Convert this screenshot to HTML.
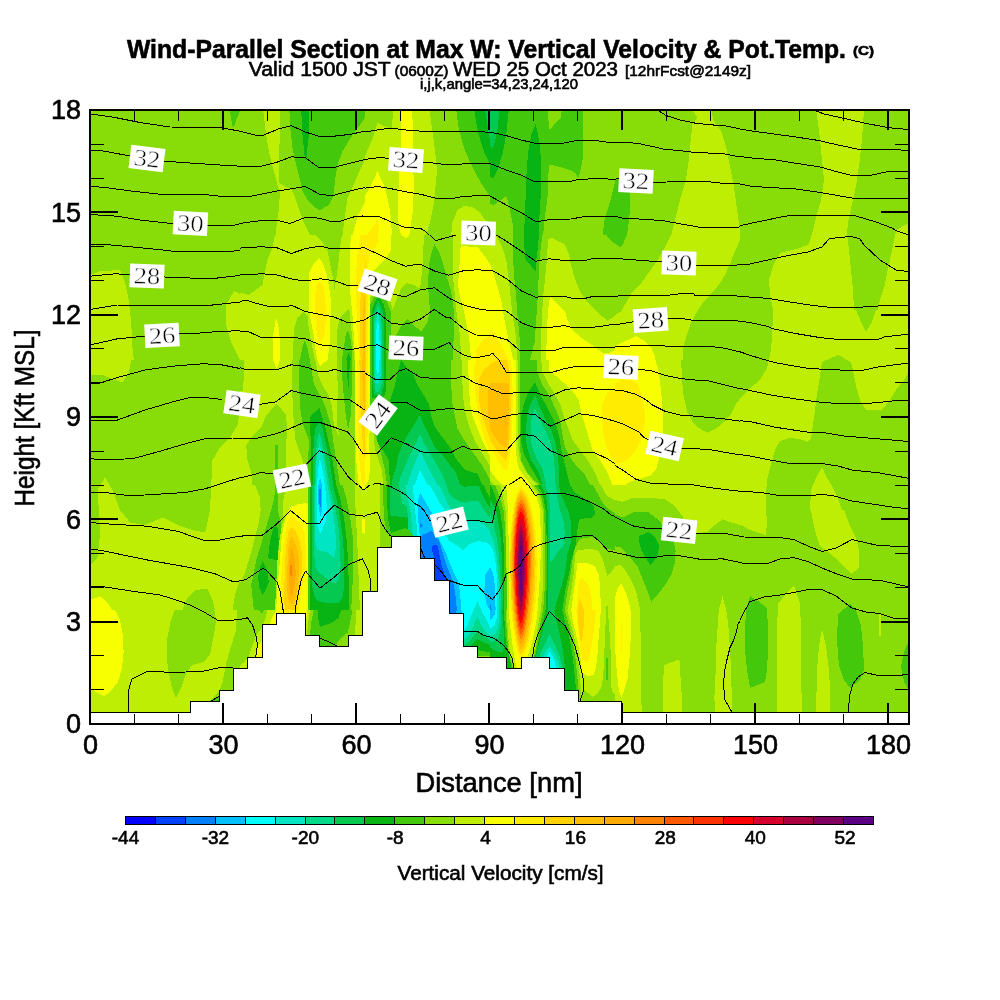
<!DOCTYPE html>
<html lang="en"><head><meta charset="utf-8"><title>Wind-Parallel Section at Max W</title>
<style>html,body{margin:0;padding:0;background:#fff}body{width:1000px;height:1000px;overflow:hidden}svg{display:block}text{font-family:"Liberation Sans",Arial,Helvetica,sans-serif;fill:#000;stroke:#000;stroke-width:0.6px}.cl text{font-family:"Liberation Serif","DejaVu Serif",serif;stroke:#fff;stroke-width:0.5px}</style></head><body>
<svg width="1000" height="1000" viewBox="0 0 1000 1000">
<rect width="1000" height="1000" fill="#fff"/>
<g shape-rendering="crispEdges">
<defs>
<clipPath id="plotclip"><rect x="90" y="110" width="819" height="603"/></clipPath>
<clipPath id="c0"><rect x="240" y="110" width="125" height="125"/></clipPath>
<clipPath id="c1"><rect x="365" y="110" width="125" height="125"/></clipPath>
<clipPath id="c2"><rect x="490" y="110" width="125" height="125"/></clipPath>
<clipPath id="c3"><rect x="615" y="110" width="125" height="125"/></clipPath>
<clipPath id="c4"><rect x="240" y="235" width="125" height="125"/></clipPath>
<clipPath id="c5"><rect x="365" y="235" width="125" height="125"/></clipPath>
<clipPath id="c6"><rect x="490" y="235" width="125" height="125"/></clipPath>
<clipPath id="c7"><rect x="615" y="235" width="125" height="125"/></clipPath>
<clipPath id="c8"><rect x="240" y="360" width="125" height="125"/></clipPath>
<clipPath id="c9"><rect x="365" y="360" width="125" height="125"/></clipPath>
<clipPath id="c10"><rect x="490" y="360" width="125" height="125"/></clipPath>
<clipPath id="c11"><rect x="615" y="360" width="125" height="125"/></clipPath>
<clipPath id="c12"><rect x="240" y="485" width="125" height="125"/></clipPath>
<clipPath id="c13"><rect x="365" y="485" width="125" height="125"/></clipPath>
<clipPath id="c14"><rect x="490" y="485" width="125" height="125"/></clipPath>
<clipPath id="c15"><rect x="490" y="610" width="125" height="103"/></clipPath>
<clipPath id="c16"><rect x="240" y="610" width="125" height="103"/></clipPath>
<clipPath id="c17"><rect x="365" y="610" width="125" height="103"/></clipPath>
<clipPath id="c18"><rect x="615" y="485" width="125" height="125"/></clipPath>
<clipPath id="c19"><rect x="615" y="610" width="125" height="103"/></clipPath>
<clipPath id="c20"><rect x="90" y="110" width="150" height="250"/></clipPath>
<clipPath id="c21"><rect x="90" y="360" width="150" height="250"/></clipPath>
<clipPath id="c22"><rect x="90" y="610" width="150" height="103"/></clipPath>
<clipPath id="c23"><rect x="740" y="110" width="169" height="200"/></clipPath>
<clipPath id="c24"><rect x="740" y="310" width="169" height="200"/></clipPath>
<clipPath id="c25"><rect x="740" y="510" width="169" height="203"/></clipPath>
</defs>
<g clip-path="url(#c0)">
<rect x="240" y="110" width="125" height="125" fill="#88dc08"/>
<polygon fill="#beee04" points="263.1,110.0 280.0,110.0 279.8,135.0 279.0,160.0 279.0,182.5 282.5,185.0 291.2,189.4 295.0,197.5 300.0,212.5 303.8,222.5 310.0,235.0 275.6,235.0 276.9,222.5 278.8,210.0 280.0,191.2 277.5,185.0 276.2,180.0 271.9,163.8 268.8,151.2 266.2,135.0"/>
<polygon fill="#44c80c" points="289.4,110.0 365.0,110.0 365.0,117.5 360.0,125.0 350.0,138.8 342.5,151.2 337.5,165.0 335.0,180.0 333.8,195.0 328.8,205.0 318.8,210.6 307.5,200.0 302.5,191.2 298.8,175.0 295.0,160.0 292.5,147.5 290.0,126.2"/>
<polygon fill="#08b414" points="301.2,110.0 309.4,110.0 308.8,135.0 306.2,160.0 305.0,160.0 302.5,135.0"/>
<polygon fill="#beee04" points="365.0,160.0 358.8,172.5 352.5,187.5 347.5,197.5 345.0,216.2 342.5,235.0 365.0,235.0"/>
<polygon fill="#f8ff00" points="365.0,202.5 357.5,216.2 352.5,235.0 365.0,235.0"/>
</g>
<g clip-path="url(#c1)">
<rect x="365" y="110" width="125" height="125" fill="#beee04"/>
<polygon fill="#88dc08" points="365.0,110.0 393.1,110.0 391.9,128.8 383.8,126.2 377.5,122.5 372.5,138.8 365.0,156.2"/>
<polygon fill="#88dc08" points="429.4,110.0 431.2,122.5 433.8,141.2 436.2,160.0 436.9,172.5 435.0,191.2 433.8,203.8 430.0,222.5 426.2,235.0 490.0,235.0 490.0,110.0"/>
<polygon fill="#f8ff00" points="401.2,110.0 412.2,110.0 413.1,135.0 413.1,160.0 413.8,185.0 413.1,210.0 411.2,222.5 409.4,235.0 401.2,235.0 399.4,228.8 397.5,216.2 398.1,197.5 399.4,172.5 401.2,147.5"/>
<polygon fill="#f8ff00" points="377.5,171.2 383.8,185.0 387.5,197.5 390.0,210.0 391.2,222.5 391.9,235.0 365.0,235.0 365.0,196.2 372.5,182.5"/>
<polygon fill="#ffec00" points="376.8,217.6 379.2,228.0 378.8,235.0 367.2,235.0 368.0,233.6 375.2,224.0"/>
<polygon fill="#44c80c" points="456.2,110.0 458.8,128.8 463.8,147.5 470.0,162.5 475.0,172.5 483.8,187.5 490.0,196.2 490.0,110.0"/>
<polygon fill="#08b414" points="474.4,110.0 476.2,122.5 478.8,135.0 483.8,151.2 490.0,163.8 490.0,110.0"/>
<polygon fill="#04c850" points="485.0,110.0 488.1,128.8 490.0,141.2 490.0,110.0"/>
<polygon fill="#beee04" points="451.2,235.0 452.5,222.5 457.5,210.0 463.8,206.2 472.5,206.9 480.0,212.5 485.0,220.0 490.0,222.5 490.0,235.0"/>
</g>
<g clip-path="url(#c2)">
<rect x="490" y="110" width="125" height="125" fill="#88dc08"/>
<polygon fill="#44c80c" points="490.0,110.0 583.1,110.0 583.1,141.2 582.5,160.0 580.0,172.5 578.1,178.1 576.2,173.8 571.2,170.6 560.0,166.9 548.8,164.4 548.1,185.0 547.5,197.5 545.0,216.2 543.1,235.0 490.0,235.0"/>
<polygon fill="#88dc08" points="548.1,110.0 561.9,110.0 560.6,117.5 550.0,129.4 548.8,128.8"/>
<polygon fill="#08b414" points="490.0,110.0 508.8,110.0 506.2,135.0 502.5,153.8 497.5,170.0 493.1,178.8 490.0,176.2"/>
<polygon fill="#04c850" points="490.0,110.0 499.4,110.0 497.5,128.8 495.0,141.2 492.5,148.8 490.0,145.0"/>
<polygon fill="#08b414" points="535.6,123.8 538.1,135.0 540.0,147.5 541.0,160.0 541.0,185.0 540.6,197.5 540.0,210.0 538.8,222.5 538.8,235.0 523.8,235.0 525.0,216.2 525.6,197.5 526.2,178.8 527.5,160.0 528.8,147.5 531.2,135.0"/>
<polygon fill="#88dc08" points="490.0,203.8 493.8,205.0 506.2,196.2 507.5,200.0 510.0,210.0 512.5,222.5 513.1,235.0 490.0,235.0"/>
<polygon fill="#44c80c" points="615.0,182.5 611.2,197.5 607.5,210.0 603.8,222.5 603.1,235.0 615.0,235.0"/>
</g>
<g clip-path="url(#c3)">
<rect x="615" y="110" width="125" height="125" fill="#88dc08"/>
<polygon fill="#44c80c" points="615.0,179.4 618.8,177.5 630.0,193.8 630.0,210.0 628.8,222.5 626.9,235.0 615.0,235.0"/>
<polygon fill="#beee04" points="692.5,110.0 697.5,118.1 692.5,123.8 690.6,141.2 688.8,160.0 686.2,178.8 680.0,200.0 675.0,220.0 671.2,235.0 740.0,235.0 740.0,230.0 738.8,222.5 736.2,203.8 733.8,185.0 730.0,166.2 726.2,147.5 721.2,131.2 713.8,121.2 711.2,110.0"/>
</g>
<g clip-path="url(#c4)">
<rect x="240" y="235" width="125" height="125" fill="#beee04"/>
<polygon fill="#88dc08" points="240.0,235.0 275.0,235.0 272.5,247.5 267.5,260.0 264.4,273.8 262.5,285.0 248.8,295.0 240.0,292.5"/>
<polygon fill="#88dc08" points="315.0,235.0 322.5,242.5 327.5,251.2 330.6,266.2 333.1,278.8 334.4,290.0 336.2,278.8 338.1,266.2 340.0,247.5 341.9,235.0"/>
<polygon fill="#f8ff00" points="318.8,258.1 322.5,262.5 326.2,272.5 328.8,285.0 330.6,297.5 330.6,316.2 330.0,335.0 329.4,347.5 327.5,360.0 317.5,360.0 315.0,347.5 313.8,335.0 311.2,322.5 308.8,310.0 308.8,291.2 309.4,272.5 313.8,263.8"/>
<polygon fill="#ffec00" points="319.4,280.6 323.8,287.5 325.6,303.8 325.6,322.5 324.4,335.0 321.2,342.5 320.0,343.8 318.1,341.2 316.2,328.8 315.0,310.0 315.6,287.5"/>
<polygon fill="#f8ff00" points="351.2,235.0 350.0,247.5 349.8,272.5 350.6,297.5 352.5,316.2 353.8,335.0 355.0,360.0 365.0,360.0 365.0,235.0"/>
<polygon fill="#ffec00" points="360.6,235.0 357.5,253.8 356.2,272.5 356.2,297.5 356.9,322.5 358.1,341.2 358.8,360.0 365.0,360.0 365.0,235.0"/>
<polygon fill="#ffd200" points="365.0,266.2 361.2,285.0 360.0,310.0 360.0,335.0 360.6,360.0 365.0,360.0"/>
<polygon fill="#ffbe00" points="365.0,291.2 363.1,310.0 362.5,335.0 363.1,360.0 365.0,360.0"/>
<polygon fill="#f8ff00" points="276.2,317.5 279.4,330.0 280.0,360.0 273.1,360.0 273.1,335.0"/>
<polygon fill="#88dc08" points="303.8,311.9 307.5,316.2 308.8,328.8 311.2,341.2 315.0,360.0 293.1,360.0 293.8,328.8 297.5,317.5"/>
<polygon fill="#44c80c" points="305.0,340.0 307.5,347.5 310.0,360.0 300.0,360.0 302.5,347.5"/>
<polygon fill="#88dc08" points="348.8,308.8 350.0,312.5 350.6,322.5 352.5,341.2 354.4,360.0 336.9,360.0 337.5,328.8 340.0,317.5"/>
<polygon fill="#44c80c" points="348.1,330.0 351.2,341.2 352.5,360.0 341.9,360.0 343.8,347.5 345.6,335.0"/>
<polygon fill="#08b414" points="348.8,352.5 351.2,360.0 346.2,360.0"/>
</g>
<g clip-path="url(#c5)">
<rect x="365" y="235" width="125" height="125" fill="#88dc08"/>
<polygon fill="#beee04" points="365.0,235.0 423.8,235.0 423.1,260.0 421.2,278.8 420.0,288.8 413.8,285.0 406.2,283.1 401.2,288.8 397.5,297.5 392.2,310.0 391.2,302.5 386.2,297.5 377.5,290.0 370.0,297.5 369.6,270.0 365.0,270.0"/>
<polygon fill="#f8ff00" points="365.0,235.0 391.2,235.0 390.6,251.2 383.8,261.2 375.0,270.0 369.6,272.5 369.6,360.0 365.0,360.0"/>
<polygon fill="#ffec00" points="365.0,235.0 378.1,235.0 378.8,241.2 375.0,247.5 370.0,253.8 368.1,266.2 367.6,285.0 367.6,360.0 365.0,360.0"/>
<polygon fill="#ffd200" points="365.0,253.8 366.4,272.5 366.4,360.0 365.0,360.0"/>
<polygon fill="#f8ff00" points="401.2,235.0 409.4,235.0 406.2,238.1"/>
<polygon fill="#44c80c" points="377.5,290.0 386.2,300.0 391.2,312.5 391.5,360.0 370.0,360.0 370.0,305.0"/>
<polygon fill="#08b414" points="378.1,295.0 383.8,305.0 386.4,316.2 386.4,360.0 371.6,360.0 371.6,310.0"/>
<polygon fill="#04c850" points="378.1,300.0 382.5,310.0 384.0,322.5 384.0,360.0 372.8,360.0 372.8,315.0"/>
<polygon fill="#00d98a" points="378.1,305.0 381.0,316.2 382.0,328.8 382.0,360.0 374.0,360.0 374.0,320.0"/>
<polygon fill="#00e6c4" points="377.9,311.2 380.0,322.5 380.8,335.0 380.8,360.0 374.9,360.0 374.9,325.0"/>
<polygon fill="#00ffff" points="377.8,320.0 379.1,330.0 379.5,341.2 379.5,360.0 376.0,360.0 376.0,332.5"/>
<polygon fill="#44c80c" points="434.4,243.8 440.0,253.8 443.8,266.2 447.5,278.8 451.2,291.2 453.8,310.0 454.4,322.5 453.8,335.0 452.5,360.0 395.0,360.0 396.2,335.0 401.2,326.2 407.5,318.8 413.8,325.0 421.2,331.9 427.5,322.5 430.0,310.0 428.8,297.5 428.1,285.0 428.8,266.2 431.2,253.8"/>
<polygon fill="#beee04" points="452.5,235.0 452.5,272.5 454.4,291.2 456.2,310.0 458.1,322.5 460.0,335.0 461.2,360.0 490.0,360.0 490.0,235.0"/>
<polygon fill="#f8ff00" points="460.6,246.2 477.5,246.9 483.8,255.0 490.0,263.8 490.0,360.0 471.2,360.0 470.0,347.5 468.8,335.0 466.2,322.5 463.8,310.0 460.0,297.5 458.1,285.0 458.8,272.5 460.0,260.0"/>
<polygon fill="#ffec00" points="490.0,335.0 482.5,340.0 476.2,350.0 475.0,360.0 490.0,360.0"/>
</g>
<g clip-path="url(#c6)">
<rect x="490" y="235" width="125" height="125" fill="#88dc08"/>
<polygon fill="#beee04" points="490.0,235.0 496.2,235.0 502.5,247.5 506.2,260.0 508.8,278.8 510.0,291.2 511.9,310.0 513.8,322.5 515.6,335.0 516.9,347.5 517.5,360.0 490.0,360.0"/>
<polygon fill="#f8ff00" points="490.0,263.8 495.0,278.8 498.8,291.2 501.9,303.8 503.8,316.2 506.2,328.8 508.8,341.2 511.9,353.8 513.1,360.0 490.0,360.0"/>
<polygon fill="#ffec00" points="490.0,330.0 495.0,335.0 502.5,347.5 508.8,360.0 490.0,360.0"/>
<polygon fill="#44c80c" points="513.1,235.0 542.5,235.0 540.0,253.8 538.8,272.5 538.1,291.2 536.9,310.0 535.6,328.8 535.0,341.2 532.5,350.0 530.0,360.0 520.0,360.0 520.0,347.5 519.4,335.0 517.5,316.2 516.2,297.5 514.4,278.8 513.1,260.0"/>
<polygon fill="#08b414" points="523.8,235.0 538.8,235.0 538.1,247.5 536.2,260.0 535.6,271.2 531.2,266.2 525.6,260.0 524.4,247.5"/>
<polygon fill="#beee04" points="548.1,238.8 552.5,238.1 565.0,244.4 568.8,253.8 571.2,266.2 576.2,282.5 581.2,293.8 590.0,305.0 597.5,312.5 607.5,320.6 615.0,316.2 615.0,360.0 540.6,360.0 541.2,335.0 541.9,316.2 543.1,297.5 545.0,278.8 546.9,260.0"/>
<polygon fill="#f8ff00" points="550.0,296.9 558.8,305.0 565.0,311.2 567.5,320.0 572.5,330.0 582.5,338.8 593.8,346.2 602.5,352.5 608.8,353.1 615.0,350.0 615.0,360.0 546.2,360.0 546.9,328.8 548.1,310.0"/>
<polygon fill="#44c80c" points="606.2,235.0 615.0,235.0 615.0,243.8 610.0,240.0"/>
</g>
<g clip-path="url(#c7)">
<rect x="615" y="235" width="125" height="125" fill="#88dc08"/>
<polygon fill="#44c80c" points="615.0,235.0 626.9,235.0 622.5,245.0 620.0,246.9 615.0,243.8"/>
<polygon fill="#beee04" points="671.2,235.0 740.0,235.0 740.0,240.0 735.0,251.2 730.0,263.8 725.0,275.0 718.8,285.0 710.0,295.0 701.2,305.0 695.0,315.0 690.0,325.0 686.2,337.5 683.1,347.5 682.5,360.0 615.0,360.0 615.0,315.0 621.2,311.2 626.2,302.5 631.2,293.8 640.0,285.0 648.8,272.5 656.2,262.5 665.0,247.5"/>
<polygon fill="#f8ff00" points="615.0,346.2 627.5,340.0 636.2,336.0 645.0,341.2 651.2,347.5 654.4,355.0 655.6,360.0 615.0,360.0"/>
</g>
<g clip-path="url(#c8)">
<rect x="240" y="360" width="125" height="125" fill="#beee04"/>
<polygon fill="#88dc08" points="240.0,360.0 243.8,360.0 243.8,378.8 242.5,391.2 240.0,391.2"/>
<polygon fill="#f8ff00" points="273.1,360.0 280.0,360.0 276.9,368.8"/>
<polygon fill="#f8ff00" points="317.5,360.0 327.5,360.0 320.0,366.2"/>
<polygon fill="#88dc08" points="276.9,403.8 286.2,415.0 286.9,430.0 286.2,447.5 286.2,466.2 285.6,485.0 252.5,485.0 251.2,472.5 247.5,460.0 246.2,445.0 251.2,437.5 261.2,427.5 266.2,415.0"/>
<polygon fill="#44c80c" points="275.0,445.0 277.5,445.0 277.5,468.8 275.0,468.8"/>
<polygon fill="#88dc08" points="292.2,360.0 315.4,360.0 317.0,368.0 318.6,376.0 322.6,385.6 328.2,394.4 330.6,401.6 332.2,408.0 333.0,416.0 333.8,424.0 336.2,430.4 341.0,440.0 343.8,460.0 346.2,485.0 305.0,485.0 302.5,460.0 295.4,440.0 293.8,424.0 293.0,408.0 292.2,392.0"/>
<polygon fill="#44c80c" points="299.4,360.0 309.8,360.0 311.4,369.6 313.8,384.0 318.6,393.6 322.6,400.0 325.8,408.0 328.2,416.0 330.6,424.0 332.2,432.0 333.0,440.0 336.2,460.0 340.0,485.0 307.5,485.0 308.1,460.0 309.0,440.0 302.6,424.0 300.2,408.0 299.4,392.0"/>
<polygon fill="#08b414" points="319.4,408.0 321.8,416.0 324.2,424.0 326.6,432.0 328.2,440.0 332.5,460.0 336.2,485.0 310.6,485.0 310.6,460.0 311.4,440.0 309.8,432.0 309.8,424.0 310.6,416.0"/>
<polygon fill="#04c850" points="319.4,422.4 322.6,428.0 325.0,440.0 329.4,460.0 333.1,485.0 313.1,485.0 313.1,460.0 313.8,440.0 315.4,428.0"/>
<polygon fill="#00d98a" points="319.4,432.8 321.8,440.0 325.6,460.0 329.4,485.0 315.0,485.0 315.6,460.0 317.0,440.0"/>
<polygon fill="#00e6c4" points="319.4,442.5 324.0,460.0 327.5,485.0 316.0,485.0 316.5,460.0"/>
<polygon fill="#00ffff" points="319.8,457.5 323.1,472.5 324.8,485.0 317.2,485.0 317.8,472.5"/>
<polygon fill="#00c0ff" points="320.0,476.9 321.9,485.0 318.5,485.0"/>
<polygon fill="#88dc08" points="337.0,360.0 354.6,360.0 354.6,485.0 346.2,485.0 343.8,460.0 337.0,424.0 337.0,408.0 337.8,392.0"/>
<polygon fill="#44c80c" points="341.8,360.0 352.2,360.0 351.8,384.0 351.4,400.0 350.6,416.0 348.2,429.6 345.8,416.0 344.2,400.0 342.6,384.0"/>
<polygon fill="#08b414" points="347.0,360.0 349.8,360.0 349.2,378.8 348.4,388.0 347.5,378.8"/>
<polygon fill="#f8ff00" points="355.0,360.0 365.0,360.0 365.0,485.0 358.8,485.0 356.2,460.0 355.0,422.5"/>
<polygon fill="#ffec00" points="357.4,360.0 365.0,360.0 365.0,485.0 361.9,485.0 359.4,460.0 358.1,422.5"/>
<polygon fill="#ffd200" points="359.4,360.0 365.0,360.0 365.0,460.0 363.1,447.5 360.6,410.0"/>
<polygon fill="#ffbe00" points="361.8,360.0 365.0,360.0 365.0,416.2 363.1,397.5"/>
</g>
<g clip-path="url(#c9)">
<rect x="365" y="360" width="125" height="125" fill="#44c80c"/>
<polygon fill="#88dc08" points="451.2,360.0 451.2,385.0 452.5,403.8 455.0,416.2 457.5,428.8 465.0,441.2 473.8,453.8 481.2,463.8 486.2,472.5 490.0,480.0 490.0,360.0"/>
<polygon fill="#beee04" points="461.9,360.0 462.5,385.0 463.8,403.8 466.2,416.2 470.0,428.8 475.0,441.2 482.5,453.8 490.0,466.2 490.0,360.0"/>
<polygon fill="#f8ff00" points="468.1,360.0 468.8,385.0 470.0,403.8 472.5,416.2 477.5,428.8 482.5,441.2 488.8,453.8 490.0,456.2 490.0,360.0"/>
<polygon fill="#ffec00" points="476.2,360.0 474.0,367.5 474.8,390.0 477.8,412.5 483.0,435.0 489.0,450.0 490.0,451.9 490.0,360.0"/>
<polygon fill="#ffd200" points="490.0,364.4 483.0,370.5 478.5,379.5 478.5,397.5 481.5,414.0 486.0,427.5 490.0,440.0"/>
<polygon fill="#ffbe00" points="490.0,384.4 487.5,393.0 487.5,414.0 490.0,425.0"/>
<polygon fill="#08b414" points="401.2,360.0 406.2,367.5 412.5,372.5 417.5,385.0 423.8,395.0 428.8,403.8 431.2,416.2 435.0,427.5 442.5,437.5 450.0,447.5 455.0,457.5 465.0,470.0 477.5,473.8 482.5,485.0 390.0,485.0 388.8,460.0 381.2,447.5 376.9,441.2 377.5,435.0 391.9,395.0 395.0,385.0 397.5,372.5"/>
<polygon fill="#04c850" points="420.0,415.0 423.8,425.0 428.8,435.0 435.0,447.5 442.5,455.0 450.0,465.0 456.2,472.5 460.0,485.0 391.9,485.0 392.5,478.8 396.2,466.2 398.8,453.8 402.5,445.0 407.5,435.0 413.8,425.0"/>
<polygon fill="#00d98a" points="420.0,433.8 425.0,445.0 431.2,455.0 437.5,466.2 442.5,475.0 446.2,485.0 398.8,485.0 400.0,478.8 403.8,468.8 408.8,457.5 415.0,445.0"/>
<polygon fill="#00e6c4" points="420.0,451.2 425.0,461.2 430.0,471.2 435.0,480.0 437.5,485.0 407.5,485.0 410.0,475.0 415.0,462.5"/>
<polygon fill="#00ffff" points="420.0,470.0 423.8,477.5 427.5,485.0 415.0,485.0 417.5,477.5"/>
<polygon fill="#08b414" points="371.6,360.0 386.4,360.0 386.4,388.8 383.8,397.5 372.5,397.5 371.6,385.0"/>
<polygon fill="#04c850" points="372.8,360.0 384.0,360.0 384.0,385.0 381.2,395.0 374.4,395.0 372.8,385.0"/>
<polygon fill="#00d98a" points="374.0,360.0 382.0,360.0 382.0,382.5 378.8,392.5 375.6,391.2 374.0,378.8"/>
<polygon fill="#00e6c4" points="374.9,360.0 380.8,360.0 380.5,376.2 378.1,385.0 376.0,382.5 375.0,372.5"/>
<polygon fill="#00ffff" points="376.0,360.0 379.5,360.0 379.1,370.0 377.8,375.0 376.5,370.0"/>
<polygon fill="#88dc08" points="365.0,360.0 370.0,360.0 370.0,416.2 373.8,430.0 380.0,450.0 385.0,470.0 387.0,485.0 365.0,485.0"/>
<polygon fill="#beee04" points="365.0,360.0 369.9,360.0 369.9,416.2 373.0,430.0 375.0,450.0 382.0,470.0 383.1,485.0 365.0,485.0"/>
<polygon fill="#f8ff00" points="365.0,360.0 369.6,360.0 369.6,422.5 369.4,447.5 370.0,470.0 368.8,480.0 365.0,486.2"/>
<polygon fill="#ffec00" points="365.0,360.0 367.6,360.0 367.6,435.0 366.9,453.8 365.0,460.0"/>
<polygon fill="#ffd200" points="365.0,360.0 366.4,360.0 366.4,410.0 365.0,422.5"/>
</g>
<g clip-path="url(#c10)">
<rect x="490" y="360" width="125" height="125" fill="#f8ff00"/>
<polygon fill="#ffec00" points="490.0,360.0 510.6,360.0 512.2,375.0 513.0,405.0 511.5,442.5 508.5,465.0 507.0,471.0 502.5,467.5 495.0,456.2 490.0,448.5"/>
<polygon fill="#ffd200" points="490.0,363.8 497.5,360.0 507.0,360.0 510.0,375.0 510.8,405.0 510.0,435.0 507.8,454.5 505.5,460.5 500.0,455.0 495.0,447.5 490.0,440.2"/>
<polygon fill="#ffbe00" points="490.0,383.5 502.5,382.5 508.5,384.0 509.2,405.0 508.5,427.5 507.0,447.0 502.5,446.2 495.0,437.5 490.0,429.0"/>
<polygon fill="#ffaa00" points="505.0,417.0 506.0,417.0 506.0,426.0 505.0,426.0"/>
<polygon fill="#beee04" points="490.0,470.0 496.2,478.8 502.5,485.0 490.0,485.0"/>
<polygon fill="#88dc08" points="490.0,480.0 493.8,485.0 490.0,485.0"/>
<polygon fill="#beee04" points="515.6,360.0 548.8,360.0 548.8,370.0 556.2,376.2 565.0,383.8 572.5,391.2 578.8,400.0 581.2,412.5 585.0,425.0 588.8,437.5 592.5,450.0 600.0,460.0 607.5,472.5 612.5,485.0 531.2,485.0 526.2,478.8 518.8,468.8 516.9,460.0 515.6,447.5"/>
<polygon fill="#88dc08" points="518.1,360.0 541.2,360.0 542.5,372.5 547.5,382.5 553.8,392.5 560.0,403.8 563.8,416.2 567.5,426.2 572.5,440.0 580.0,450.0 587.5,460.0 595.0,472.5 600.0,485.0 537.5,485.0 531.2,478.8 525.0,470.0 520.0,460.0 518.1,447.5"/>
<polygon fill="#44c80c" points="520.0,360.0 536.9,360.0 537.5,372.5 542.5,385.0 548.8,395.0 555.0,407.5 560.0,420.0 562.5,435.0 565.0,447.5 570.0,457.5 577.5,467.5 585.0,475.0 590.0,485.0 540.0,485.0 533.8,480.0 527.5,472.5 521.2,460.0 520.0,447.5"/>
<polygon fill="#08b414" points="535.0,381.9 538.8,391.2 543.8,401.2 550.0,412.5 556.2,425.0 559.4,437.5 561.2,450.0 563.8,460.0 566.9,472.5 570.0,485.0 541.2,485.0 536.2,476.2 530.0,466.2 523.8,453.8 521.2,441.2 521.2,416.2 523.8,403.8 528.8,391.2"/>
<polygon fill="#04c850" points="535.0,395.0 540.0,407.5 545.0,418.8 551.2,430.0 555.0,441.2 557.5,453.8 558.8,466.2 559.4,485.0 542.5,485.0 538.8,472.5 531.2,460.0 526.9,447.5 525.6,435.0 526.9,416.2 530.0,405.0"/>
<polygon fill="#00d98a" points="535.0,408.1 537.5,413.8 542.5,425.0 547.5,435.0 551.2,445.0 553.8,457.5 555.0,472.5 555.0,485.0 546.2,485.0 542.5,468.8 537.5,460.0 533.1,450.0 530.6,441.2 530.6,422.5 533.1,412.5"/>
<polygon fill="#ffec00" points="615.0,388.8 607.5,392.5 602.5,402.5 601.9,416.2 603.1,432.5 606.2,447.5 611.2,457.5 615.0,460.0"/>
</g>
<g clip-path="url(#c11)">
<rect x="615" y="360" width="125" height="125" fill="#beee04"/>
<polygon fill="#f8ff00" points="615.0,360.0 655.6,360.0 658.8,372.5 661.2,391.2 662.5,410.0 663.1,428.8 661.2,447.5 658.8,460.0 656.2,468.8 651.2,475.0 640.0,478.8 630.0,481.9 625.0,485.0 615.0,485.0"/>
<polygon fill="#ffec00" points="615.0,383.8 618.8,380.6 630.0,380.0 637.5,383.8 642.5,397.5 645.0,412.5 644.4,426.2 641.2,440.0 636.2,450.0 627.5,460.0 620.0,463.1 615.0,462.5"/>
<polygon fill="#88dc08" points="681.2,360.0 681.9,378.8 683.8,397.5 687.5,412.5 692.5,422.5 700.0,428.8 707.5,432.5 717.5,427.5 725.0,421.2 731.2,413.8 736.2,403.8 740.0,398.8 740.0,360.0"/>
</g>
<g clip-path="url(#c12)">
<rect x="240" y="485" width="125" height="125" fill="#beee04"/>
<polygon fill="#88dc08" points="255.0,485.0 354.6,485.0 355.6,510.0 356.9,535.0 358.1,560.0 358.8,585.0 360.0,610.0 240.0,610.0 240.0,582.5 245.0,572.5 248.8,560.0 252.5,547.5 255.6,535.0 258.8,522.5 260.6,510.0 260.0,497.5"/>
<polygon fill="#beee04" points="286.2,485.0 307.5,485.0 308.1,510.0 290.0,510.0 283.8,522.5 282.5,503.8"/>
<polygon fill="#44c80c" points="275.0,485.0 277.5,485.0 277.5,510.0 281.2,522.5 281.2,610.0 253.8,610.0 252.5,597.5 251.2,585.0 253.8,572.5 256.2,560.0 260.0,547.5 263.8,535.0 267.5,522.5 271.2,510.0 274.4,497.5"/>
<polygon fill="#08b414" points="273.8,526.2 277.5,527.5 278.8,541.2 277.5,560.0 268.8,558.8 268.1,557.5 270.0,541.2"/>
<polygon fill="#08b414" points="262.5,561.2 267.5,571.2 268.8,582.5 265.0,591.2 262.5,595.0 259.4,587.5 258.1,577.5 260.0,567.5"/>
<polygon fill="#beee04" points="290.0,505.0 308.1,502.5 308.1,610.0 275.0,610.0 276.2,585.0 277.5,560.0 279.4,541.2 281.9,526.2 285.6,513.8"/>
<polygon fill="#f8ff00" points="290.0,507.5 297.5,504.4 306.2,503.1 308.1,503.8 308.1,610.0 276.2,610.0 276.9,597.5 277.5,585.0 278.8,572.5 280.0,560.0 281.2,541.2 283.1,528.8 286.2,516.2"/>
<polygon fill="#ffec00" points="291.2,515.0 296.2,520.0 302.5,526.2 305.0,535.0 306.2,553.8 305.6,572.5 302.5,585.0 300.0,597.5 298.8,610.0 280.6,610.0 280.0,597.5 280.6,585.0 281.9,566.2 283.1,547.5 284.4,535.0 287.5,522.5"/>
<polygon fill="#ffd200" points="291.2,526.4 295.6,531.2 299.4,540.0 301.9,552.5 302.1,567.5 300.6,582.5 298.1,597.5 296.9,610.0 285.0,610.0 284.0,597.5 284.6,578.8 285.2,560.0 286.5,543.8 288.5,532.5"/>
<polygon fill="#ffbe00" points="291.2,536.0 294.4,541.2 297.5,550.0 299.1,560.0 298.8,575.0 297.2,587.5 295.6,597.5 293.1,604.4 290.0,604.4 287.8,597.5 287.0,585.0 287.5,566.2 288.1,550.0 289.4,541.2"/>
<polygon fill="#ffaa00" points="291.2,546.8 293.5,552.5 295.4,562.5 295.6,575.0 294.4,585.0 292.5,593.8 291.2,596.0 290.0,593.8 289.0,582.5 289.0,566.2 289.8,555.0"/>
<polygon fill="#ff8200" points="291.0,562.4 291.9,567.5 291.8,575.0 291.0,578.0 290.2,572.5 290.2,566.2"/>
<polygon fill="#44c80c" points="308.1,485.0 342.5,485.0 346.2,497.5 350.0,516.2 352.5,535.0 353.1,560.0 352.5,585.0 351.2,610.0 308.1,610.0"/>
<polygon fill="#08b414" points="310.0,485.0 336.2,485.0 340.0,497.5 343.8,516.2 346.2,535.0 348.1,560.0 348.8,585.0 348.8,610.0 310.0,610.0"/>
<polygon fill="#04c850" points="311.9,485.0 333.1,485.0 336.2,497.5 340.0,516.2 342.5,535.0 344.4,560.0 344.4,585.0 342.5,597.5 338.8,602.5 327.5,603.1 317.5,601.2 315.0,597.5 311.9,585.0"/>
<polygon fill="#00d98a" points="313.8,485.0 329.4,485.0 332.5,497.5 335.6,510.0 338.8,528.8 340.0,547.5 340.6,566.2 338.8,580.0 335.0,583.8 325.0,577.5 317.5,571.2 315.0,566.2 313.8,547.5"/>
<polygon fill="#00e6c4" points="315.0,485.0 327.5,485.0 330.0,497.5 332.5,510.0 334.4,522.5 335.6,535.0 335.6,550.0 333.8,558.8 327.5,552.5 317.5,550.0 315.6,545.0 315.0,522.5"/>
<polygon fill="#00ffff" points="316.5,485.0 324.8,485.0 326.2,497.5 326.9,510.0 326.2,520.0 322.5,528.8 320.0,533.8 317.5,526.2 316.5,510.0"/>
<polygon fill="#00c0ff" points="318.1,485.0 321.9,485.0 322.5,497.5 321.9,510.0 320.6,516.2 318.8,510.0 318.1,497.5"/>
<polygon fill="#0080ff" points="319.0,488.8 321.0,488.8 321.2,500.0 320.2,510.0 319.1,500.0"/>
<polygon fill="#f8ff00" points="361.9,518.8 365.0,518.8 365.0,535.0 362.5,532.5"/>
<polygon fill="#f8ff00" points="357.5,485.0 365.0,485.0 365.0,490.0 361.2,488.8"/>
</g>
<g clip-path="url(#c13)">
<rect x="365" y="485" width="125" height="125" fill="#00ffff"/>
<polygon fill="#00e6c4" points="429.6,485.0 434.4,493.0 438.4,501.0 444.0,509.0 446.2,522.5 445.0,535.0 449.6,541.0 457.6,545.8 463.2,550.6 469.6,544.2 478.4,541.0 486.4,542.6 490.0,545.0 490.0,485.0"/>
<polygon fill="#00d98a" points="439.2,485.0 443.2,493.0 446.4,501.0 450.4,508.2 457.5,515.0 464.8,520.2 476.0,521.0 482.4,523.4 488.0,528.2 490.0,531.2 490.0,485.0"/>
<polygon fill="#04c850" points="446.4,485.0 448.0,491.4 452.0,497.0 458.4,501.0 464.8,502.6 471.2,501.0 478.4,501.0 482.4,507.4 486.4,513.0 490.0,518.1 490.0,485.0"/>
<polygon fill="#08b414" points="461.6,485.0 464.8,487.4 469.6,485.8 479.2,485.8 481.6,493.0 485.6,501.0 490.0,508.8 490.0,485.0"/>
<polygon fill="#44c80c" points="484.0,485.0 486.4,491.4 490.0,498.1 490.0,485.0"/>
<polygon fill="#beee04" points="365.0,485.0 379.8,485.0 379.8,516.2 380.6,535.0 380.6,610.0 365.0,610.0"/>
<polygon fill="#88dc08" points="379.8,485.0 379.8,516.2 380.0,547.5 391.2,547.5 391.2,536.2 387.0,533.0 383.8,517.0 383.0,485.0"/>
<polygon fill="#44c80c" points="383.0,485.0 383.8,517.0 387.0,533.0 391.0,536.2 420.6,536.2 420.6,485.0"/>
<polygon fill="#08b414" points="387.0,485.0 387.5,510.0 387.8,517.0 391.0,533.0 405.4,528.1 408.1,529.8 412.6,533.0 413.4,536.2 420.6,536.2 420.6,485.0"/>
<polygon fill="#04c850" points="389.8,485.0 399.0,485.0 400.6,493.0 402.2,503.4 407.0,506.6 407.8,517.0 407.0,517.8 389.8,515.4"/>
<polygon fill="#00d98a" points="399.0,485.0 405.4,485.0 407.0,493.0 408.6,501.0 410.2,509.0 411.0,517.0 411.8,525.0 412.6,533.0 413.4,536.2 408.1,529.8 407.8,517.0 407.0,506.6 402.2,503.4 400.6,493.0"/>
<polygon fill="#00e6c4" points="405.4,485.0 413.4,485.0 413.4,493.0 414.2,501.0 415.0,509.0 415.8,517.0 416.6,525.0 417.4,536.2 413.4,536.2 412.6,533.0 411.8,525.0 411.0,517.0 410.2,509.0 408.6,501.0 407.0,493.0"/>
<polygon fill="#00ffff" points="413.4,485.0 430.0,485.0 430.0,493.0 420.6,493.0 418.6,497.0 417.4,505.0 418.2,517.0 418.6,525.0 419.8,536.2 417.4,536.2 416.6,525.0 415.8,517.0 415.0,509.0 414.2,501.0 413.4,493.0"/>
<polygon fill="#00c0ff" points="420.6,493.0 424.8,501.0 429.6,509.0 432.0,513.0 435.0,526.2 438.4,537.8 442.4,545.8 446.4,553.8 450.4,565.0 457.5,580.0 460.0,591.2 461.2,610.0 449.8,610.0 449.8,580.6 434.4,580.6 434.4,558.8 420.6,558.8 420.6,536.2 419.8,536.2 418.6,525.0 418.2,517.0 417.4,505.0 418.6,497.0"/>
<polygon fill="#0080ff" points="423.2,534.6 432.0,530.6 434.4,536.2 439.2,541.0 441.6,549.0 444.0,557.0 446.4,565.0 452.5,580.0 455.0,591.2 456.9,610.0 449.8,610.0 449.8,580.6 434.4,580.6 434.4,558.8 420.6,558.8 420.6,536.2"/>
<polygon fill="#0080ff" points="419.8,522.5 423.0,525.8 420.0,529.0"/>
<polygon fill="#0040ff" points="432.0,545.8 434.4,544.6 437.6,545.8 440.0,557.0 441.6,565.0 446.2,580.6 434.4,580.6 434.4,558.8 431.8,549.0"/>
<polygon fill="#00e6c4" points="477.5,600.6 481.2,610.0 473.8,610.0"/>
<polygon fill="#00c0ff" points="490.0,567.5 485.0,575.0 484.4,591.2 486.2,603.8 490.0,610.0"/>
</g>
<g clip-path="url(#c14)">
<rect x="490" y="485" width="125" height="125" fill="#88dc08"/>
<polygon fill="#beee04" points="500.0,485.0 532.0,485.0 539.0,495.0 542.5,510.0 543.5,535.0 543.1,572.5 542.5,591.2 540.8,610.0 506.9,610.0 506.6,572.5 505.5,510.0 502.5,495.0"/>
<polygon fill="#f8ff00" points="506.0,485.0 528.0,485.0 536.0,495.0 540.0,510.0 540.8,535.0 540.5,560.0 539.4,585.0 537.6,610.0 508.8,610.0 508.5,535.0 508.0,510.0 507.0,495.0"/>
<polygon fill="#44c80c" points="490.0,485.0 495.0,485.0 499.0,495.0 503.5,510.0 505.2,528.8 506.0,547.5 506.5,572.5 506.5,610.0 490.0,610.0"/>
<polygon fill="#08b414" points="490.0,485.0 490.6,485.0 495.0,495.0 500.0,510.0 502.5,528.8 503.8,547.5 504.2,572.5 504.2,610.0 490.0,610.0"/>
<polygon fill="#04c850" points="490.0,498.8 496.0,510.0 499.4,528.8 501.0,541.2 501.9,560.0 502.5,585.0 502.5,610.0 490.0,610.0"/>
<polygon fill="#00d98a" points="490.0,513.8 493.1,522.5 496.2,535.0 498.5,550.0 500.0,572.5 500.6,591.2 500.6,610.0 490.0,610.0"/>
<polygon fill="#00e6c4" points="490.0,532.5 493.8,541.2 496.2,553.8 497.8,566.2 498.8,585.0 499.0,610.0 490.0,610.0"/>
<polygon fill="#00ffff" points="490.0,545.0 493.1,550.0 495.2,560.0 496.5,572.5 497.2,591.2 497.5,610.0 490.0,610.0"/>
<polygon fill="#00c0ff" points="490.0,567.5 493.1,572.5 494.8,585.0 495.2,597.5 495.6,610.0 490.0,610.0"/>
<polygon fill="#0080ff" points="490.0,603.8 491.9,610.0 490.0,610.0"/>
<polygon fill="#44c80c" points="534.5,485.0 592.5,485.0 594.0,487.0 600.0,498.0 604.0,505.0 610.0,510.0 615.0,513.5 615.0,550.0 606.2,548.8 598.8,541.2 592.5,536.9 580.0,538.8 575.0,547.5 572.5,560.0 570.6,575.0 567.5,591.2 564.8,610.0 543.2,610.0 544.5,591.2 545.0,572.5 545.0,535.0 544.0,510.0 541.0,495.0"/>
<polygon fill="#08b414" points="537.5,485.0 570.0,485.0 575.0,493.0 582.0,497.0 590.0,502.0 594.0,507.0 595.0,514.0 592.0,517.5 580.0,519.0 578.0,524.0 576.2,541.2 575.0,547.5 571.2,560.0 568.8,575.0 565.0,591.2 562.4,610.0 545.6,610.0 546.5,591.2 546.8,572.5 546.5,535.0 545.5,510.0 543.0,495.0"/>
<polygon fill="#04c850" points="541.0,485.0 559.0,485.0 561.0,495.0 568.0,510.0 570.6,520.0 571.2,528.8 571.2,541.2 567.5,553.8 565.0,572.5 560.0,591.2 556.0,603.8 554.4,610.0 548.0,610.0 548.2,591.2 548.5,572.5 548.2,535.0 547.5,510.0 546.0,495.0"/>
<polygon fill="#00d98a" points="545.0,485.0 556.0,485.0 557.0,495.0 560.0,510.0 563.8,522.5 565.0,535.0 563.8,545.0 557.5,552.5 551.2,562.5 549.8,560.0 550.0,535.0 550.0,510.0 549.0,495.0"/>
<polygon fill="#beee04" points="601.0,485.0 606.0,495.0 614.0,500.0 615.0,500.5 615.0,485.0"/>
<polygon fill="#beee04" points="575.0,555.0 577.5,550.0 592.5,548.8 598.8,551.2 602.5,558.8 605.0,567.5 607.5,576.2 611.2,572.5 615.0,566.2 615.0,610.0 567.5,610.0 571.2,591.2 573.8,572.5"/>
<polygon fill="#f8ff00" points="577.5,563.1 587.5,563.1 595.0,566.2 598.8,575.0 600.0,585.0 600.5,597.5 600.8,610.0 571.2,610.0 573.8,591.2 575.6,578.8"/>
<polygon fill="#ffec00" points="581.2,577.5 588.8,585.0 591.2,593.8 592.5,610.0 576.2,610.0 577.5,597.5 578.8,582.5"/>
<polygon fill="#ffd200" points="579.4,598.8 582.5,605.0 583.8,610.0 577.5,610.0"/>
<polygon fill="#88dc08" points="607.0,602.0 608.1,610.0 605.9,610.0"/>
</g>
<g clip-path="url(#c15)">
<rect x="490" y="610" width="125" height="103" fill="#beee04"/>
<polygon fill="#88dc08" points="490.0,610.0 506.9,610.0 508.1,635.0 510.0,653.8 514.4,668.8 490.0,668.8"/>
<polygon fill="#44c80c" points="490.0,610.0 505.6,610.0 506.9,635.0 508.8,653.8 513.1,668.8 490.0,668.8"/>
<polygon fill="#08b414" points="490.0,610.0 504.0,610.0 505.2,635.0 506.9,647.5 510.0,660.0 511.9,668.8 490.0,668.8"/>
<polygon fill="#04c850" points="490.0,610.0 502.2,610.0 503.1,622.5 504.4,635.0 504.0,647.5 502.5,652.5 496.2,651.2 490.0,647.5"/>
<polygon fill="#00d98a" points="490.0,610.0 500.6,610.0 501.0,622.5 500.0,632.5 497.5,638.8 493.8,641.2 490.0,642.5"/>
<polygon fill="#00e6c4" points="490.0,610.0 499.0,610.0 499.0,620.0 497.5,628.8 495.0,633.8 490.0,636.2"/>
<polygon fill="#00ffff" points="490.0,610.0 497.5,610.0 496.9,617.5 495.0,623.8 492.5,627.5 490.0,628.8"/>
<polygon fill="#00c0ff" points="490.0,610.0 495.6,610.0 494.4,615.0 491.9,618.8 490.0,620.0"/>
<polygon fill="#f8ff00" points="508.8,610.0 537.6,610.0 536.2,622.5 533.8,635.0 530.6,647.5 527.5,657.5 523.8,668.8 516.9,668.8 514.4,657.5 511.9,641.2 510.0,625.0"/>
<polygon fill="#88dc08" points="540.8,610.0 567.2,610.0 570.6,622.5 573.8,635.0 576.2,647.5 578.1,660.0 579.4,672.5 580.6,685.0 581.2,697.5 578.8,701.2 531.2,701.2 531.9,660.0 534.4,650.0 537.5,628.8"/>
<polygon fill="#44c80c" points="543.2,610.0 564.8,610.0 568.1,622.5 571.2,635.0 573.8,647.5 575.6,660.0 576.9,672.5 578.1,685.0 578.8,692.5 578.8,701.2 532.5,701.2 533.1,660.0 535.6,650.0 539.4,628.8"/>
<polygon fill="#08b414" points="545.6,610.0 562.4,610.0 565.0,622.5 568.8,635.0 571.2,647.5 573.1,660.0 574.4,672.5 575.6,685.0 576.2,690.0 576.2,701.2 533.8,701.2 534.4,660.0 536.8,650.0 541.2,628.8"/>
<polygon fill="#04c850" points="548.0,610.0 554.4,610.0 556.2,620.0 560.0,635.0 563.1,651.2 565.0,668.1 565.0,701.2 535.0,701.2 535.6,657.5 538.1,647.5 541.2,635.0 545.0,622.5"/>
<polygon fill="#00d98a" points="549.6,633.8 553.8,642.5 558.8,653.8 561.2,662.5 562.5,668.1 562.5,701.2 538.1,701.2 538.8,657.5 541.2,651.2 546.2,641.2"/>
<polygon fill="#00e6c4" points="549.6,646.2 553.1,651.2 556.2,656.2 558.8,663.8 559.4,668.1 559.4,701.2 541.9,701.2 542.5,657.5 545.0,652.5"/>
<polygon fill="#00ffff" points="549.6,651.9 552.5,656.2 555.0,662.5 556.2,668.1 556.2,701.2 545.6,701.2 546.2,657.5 547.8,654.4"/>
<polygon fill="#f8ff00" points="571.2,610.0 573.1,622.5 576.2,635.0 578.8,647.5 580.6,660.0 582.5,672.5 587.5,676.2 593.8,675.0 596.2,666.2 597.5,653.8 598.8,635.0 600.0,622.5 600.8,610.0"/>
<polygon fill="#ffec00" points="576.2,610.0 577.5,622.5 578.8,635.0 580.0,647.5 582.5,660.0 587.5,662.5 590.0,653.8 592.5,641.2 595.0,622.5 596.2,610.0"/>
<polygon fill="#ffd200" points="577.5,610.0 578.1,622.5 579.4,635.0 581.2,642.5 583.1,635.0 583.8,622.5 584.4,610.0"/>
<polygon fill="#88dc08" points="607.0,602.0 608.8,622.5 610.2,641.2 611.0,660.0 610.6,678.8 611.9,691.2 615.0,695.0 615.0,713.8 578.8,713.8 581.2,696.2 583.8,690.0 587.5,692.5 592.5,696.9 597.5,693.8 601.2,687.5 603.1,677.5 604.0,660.0 604.8,641.2 605.6,622.5"/>
<polygon fill="#44c80c" points="606.2,657.5 608.1,657.5 608.1,680.0 606.2,680.0"/>
</g>
<g clip-path="url(#c16)">
<rect x="240" y="610" width="125" height="103" fill="#88dc08"/>
<polygon fill="#44c80c" points="258.8,610.0 263.8,610.0 261.9,613.8"/>
<polygon fill="#beee04" points="267.5,610.0 277.5,610.0 277.5,625.0 262.5,625.0 262.5,658.8 247.5,658.8 247.5,668.8 240.0,668.8 240.0,665.0 243.8,662.5 248.8,656.2 252.5,645.0 256.2,635.0 261.2,628.8 265.0,620.0"/>
<polygon fill="#f8ff00" points="276.5,610.0 276.5,624.4 269.4,624.4 272.8,616.2"/>
<polygon fill="#f8ff00" points="262.5,640.0 262.5,657.5 255.0,657.5 256.9,647.5"/>
<polygon fill="#f8ff00" points="276.5,610.0 305.4,610.0 305.4,613.8 276.5,613.8"/>
<polygon fill="#ffec00" points="283.1,610.0 295.0,610.0 295.0,613.8 283.1,613.8"/>
<polygon fill="#44c80c" points="313.8,610.0 352.5,610.0 350.0,622.5 347.5,632.5 340.0,638.8 335.0,646.2 319.4,646.2 319.4,635.4 310.0,635.4 311.2,622.5"/>
<polygon fill="#08b414" points="317.5,610.0 341.2,610.0 338.8,617.5 332.5,622.5 320.0,626.9 318.1,617.5"/>
<polygon fill="#beee04" points="305.4,610.0 310.0,610.0 308.1,622.5 306.9,635.4 305.4,635.4"/>
<polygon fill="#f8ff00" points="305.4,610.0 306.9,610.0 306.2,625.0 305.4,628.8"/>
<polygon fill="#beee04" points="356.2,610.0 365.0,610.0 365.0,635.4 355.0,635.4 355.6,622.5"/>
</g>
<g clip-path="url(#c17)">
<rect x="365" y="610" width="125" height="103" fill="#00ffff"/>
<polygon fill="#00c0ff" points="449.8,610.0 461.2,610.0 462.5,613.8 449.8,613.8"/>
<polygon fill="#0080ff" points="449.8,610.0 456.9,610.0 455.0,613.8 449.8,613.8"/>
<polygon fill="#00e6c4" points="477.5,601.2 472.5,612.5 467.5,625.0 463.8,631.2 463.8,647.5 490.0,647.5 490.0,627.5 487.5,622.5 482.5,612.5"/>
<polygon fill="#00d98a" points="477.5,616.9 473.8,625.0 468.8,635.0 463.8,640.0 463.8,647.5 490.0,647.5 490.0,635.0 485.0,631.2 481.2,625.0"/>
<polygon fill="#04c850" points="477.5,631.2 472.5,637.5 467.5,642.5 463.8,645.0 463.8,647.5 490.0,647.5 490.0,640.0 483.8,636.2"/>
<polygon fill="#08b414" points="477.5,639.4 490.0,645.0 490.0,660.0 471.2,660.0 471.2,645.0"/>
<polygon fill="#44c80c" points="477.5,650.0 490.0,652.5 490.0,660.0 477.5,660.0"/>
<polygon fill="#88dc08" points="477.5,655.6 490.0,656.2 490.0,660.0 477.5,660.0"/>
</g>
<g clip-path="url(#c18)">
<rect x="615" y="485" width="125" height="125" fill="#88dc08"/>
<polygon fill="#beee04" points="615.0,485.0 740.0,485.0 740.0,525.0 731.2,522.5 722.5,519.4 715.0,525.0 707.5,531.9 696.2,533.1 685.0,522.5 682.5,516.2 675.0,506.2 665.0,499.4 647.5,497.5 633.8,497.5 622.5,501.9 615.0,500.0"/>
<polygon fill="#44c80c" points="615.0,514.4 622.5,517.5 633.8,511.9 648.8,512.5 658.8,520.0 667.5,532.5 673.8,541.2 675.6,550.0 675.0,562.5 671.2,575.0 665.0,585.0 657.5,595.0 651.2,601.9 647.5,591.2 642.5,578.8 637.5,566.2 631.2,558.8 621.2,547.5 615.0,546.2"/>
<polygon fill="#08b414" points="638.8,536.2 648.8,531.9 655.0,537.5 659.4,546.2 657.5,555.0 653.8,561.2 650.6,565.6 646.2,558.8 641.2,550.0 639.4,542.5"/>
<polygon fill="#beee04" points="615.0,566.2 620.0,565.0 625.0,570.0 631.2,580.0 636.2,591.2 638.8,603.8 640.0,610.0 615.0,610.0"/>
<polygon fill="#f8ff00" points="621.2,583.1 626.2,593.8 629.4,603.8 630.0,610.0 615.0,610.0 615.0,597.5 617.5,588.8"/>
<polygon fill="#beee04" points="722.5,596.2 726.2,610.0 718.8,610.0"/>
</g>
<g clip-path="url(#c19)">
<rect x="615" y="610" width="125" height="103" fill="#88dc08"/>
<polygon fill="#beee04" points="615.0,610.0 640.0,610.0 640.6,635.0 640.6,672.5 641.2,697.5 641.9,713.8 615.0,713.8"/>
<polygon fill="#f8ff00" points="615.0,610.0 630.6,610.0 631.0,622.5 630.6,641.2 629.4,660.0 627.5,678.8 623.8,691.2 621.2,697.5 618.8,690.0 616.9,672.5 615.0,647.5"/>
<polygon fill="#ffec00" points="620.6,625.0 621.9,625.0 621.9,652.5 620.6,652.5"/>
<polygon fill="#beee04" points="663.1,713.8 663.1,680.0 664.4,665.0 677.5,660.0 680.0,661.2 680.6,680.0 681.9,697.5 682.5,713.8"/>
<polygon fill="#beee04" points="715.0,713.8 714.4,697.5 715.6,672.5 716.2,647.5 717.5,628.8 718.8,610.0 726.2,610.0 728.1,622.5 729.4,641.2 730.6,660.0 731.2,678.8 731.9,697.5 731.9,713.8"/>
</g>
<g clip-path="url(#c20)">
<rect x="90" y="110" width="150" height="250" fill="#88dc08"/>
<polygon fill="#44c80c" points="229.5,110.0 240.5,110.0 236.2,120.0 233.0,128.8"/>
<polygon fill="#beee04" points="90.0,275.0 100.0,271.2 120.0,270.0 125.0,282.5 128.8,300.0 131.2,322.5 132.5,347.5 133.8,360.0 90.0,360.0"/>
<polygon fill="#beee04" points="240.0,293.8 233.8,291.2 226.2,305.0 226.2,325.0 231.2,342.5 240.0,360.0"/>
</g>
<g clip-path="url(#c21)">
<rect x="90" y="360" width="150" height="250" fill="#beee04"/>
<polygon fill="#88dc08" points="131.2,360.0 242.5,360.0 242.5,385.0 240.0,410.0 237.5,425.0 230.0,437.5 220.0,447.5 212.5,460.0 211.2,485.0 210.0,510.0 207.5,522.5 205.0,532.5 192.5,530.0 177.5,525.0 162.5,517.5 145.0,525.0 130.0,522.5 120.0,510.0 112.5,490.0 105.0,477.5 97.5,490.0 98.8,510.0 100.0,535.0 97.5,557.5 90.0,565.0 90.0,375.0 102.5,375.0 115.0,380.0 122.5,382.5 128.8,372.5"/>
<polygon fill="#f8ff00" points="90.0,600.0 100.0,596.2 107.5,602.5 112.5,610.0 90.0,610.0"/>
<polygon fill="#88dc08" points="182.5,610.0 187.5,597.5 195.0,590.0 207.5,588.8 212.5,600.0 215.0,610.0"/>
<polygon fill="#88dc08" points="240.0,580.0 235.0,595.0 232.5,610.0 240.0,610.0"/>
</g>
<g clip-path="url(#c22)">
<rect x="90" y="610" width="150" height="103" fill="#beee04"/>
<polygon fill="#f8ff00" points="90.0,600.0 98.0,597.0 106.0,598.0 114.0,608.0 120.0,620.0 123.0,636.0 123.6,652.0 122.0,668.0 118.0,682.0 110.0,692.0 104.0,696.0 96.0,692.0 90.0,688.0"/>
<polygon fill="#88dc08" points="190.0,590.0 205.0,589.0 210.0,598.0 215.0,612.0 216.0,622.0 213.0,640.0 210.0,654.0 204.0,662.0 192.0,665.0 186.0,674.0 182.0,686.0 176.0,698.0 172.0,688.0 169.0,674.0 167.0,660.0 167.0,640.0 170.0,624.0 174.0,612.0 180.0,602.0"/>
<polygon fill="#88dc08" points="237.0,610.0 240.0,610.0 240.0,668.0 233.4,668.0 233.4,690.4 219.6,690.4 219.6,701.0 210.0,701.0 220.0,690.0 223.0,680.0 226.0,664.0 230.0,650.0 236.0,630.0"/>
<polygon fill="#44c80c" points="212.0,701.0 219.6,696.0 219.6,701.0"/>
</g>
<g clip-path="url(#c23)">
<rect x="740" y="110" width="169" height="200" fill="#88dc08"/>
<polygon fill="#beee04" points="720.0,130.0 724.0,140.0 729.0,160.0 733.0,180.0 736.0,200.0 739.0,220.0 740.0,234.0 736.0,250.0 730.0,262.0 724.0,276.0 720.0,282.0"/>
<polygon fill="#beee04" points="816.0,110.0 819.0,130.0 821.0,150.0 823.0,170.0 824.0,180.0 821.0,200.0 817.0,214.0 813.0,230.0 809.0,244.0 800.0,248.0 780.0,253.0 773.0,266.0 769.0,280.0 770.0,294.0 773.0,310.0 854.0,310.0 853.0,290.0 851.0,270.0 849.0,250.0 847.0,234.0 848.0,222.0 852.0,204.0 856.0,186.0 859.0,166.0 862.0,140.0 864.0,110.0"/>
<polygon fill="#beee04" points="909.0,223.0 896.0,230.0 893.0,246.0 889.0,264.0 885.0,284.0 880.0,300.0 878.0,310.0 909.0,310.0"/>
</g>
<g clip-path="url(#c24)">
<rect x="740" y="310" width="169" height="200" fill="#beee04"/>
<polygon fill="#88dc08" points="720.0,310.0 773.0,310.0 772.4,330.0 771.0,350.0 767.0,368.0 760.0,380.0 750.0,388.0 740.0,398.0 732.0,412.0 726.0,422.0 720.0,426.0"/>
<polygon fill="#88dc08" points="856.0,310.0 876.0,310.0 872.0,322.0 866.0,332.0 861.0,322.0"/>
<polygon fill="#88dc08" points="909.0,372.0 904.0,380.0 896.0,390.0 890.0,400.0 882.0,410.0 866.0,410.0 860.0,400.0 856.0,386.0 853.0,370.0 851.0,362.0 838.0,355.0 822.0,362.0 820.0,376.0 817.0,394.0 814.0,418.0 811.0,438.0 808.0,442.0 800.0,439.0 790.0,438.0 780.0,441.0 775.0,450.0 771.0,464.0 767.0,480.0 766.0,494.0 766.0,510.0 810.0,510.0 811.0,490.0 816.0,478.0 822.0,467.0 826.0,476.0 832.0,486.0 838.0,498.0 842.0,510.0 909.0,510.0"/>
</g>
<g clip-path="url(#c25)">
<rect x="740" y="510" width="169" height="203" fill="#88dc08"/>
<polygon fill="#beee04" points="720.0,510.0 766.0,510.0 767.0,522.0 766.0,535.0 750.0,530.0 736.0,522.0 724.0,518.0 720.0,520.0"/>
<polygon fill="#beee04" points="811.0,510.0 844.0,510.0 850.0,526.0 856.0,538.0 859.0,550.0 859.0,568.0 851.0,574.0 840.0,562.0 828.0,552.0 820.0,546.0 816.0,534.0 813.0,522.0"/>
<polygon fill="#beee04" points="720.0,596.0 723.0,596.0 727.0,610.0 729.0,630.0 730.0,650.0 731.0,670.0 732.0,690.0 732.0,714.0 720.0,714.0"/>
<polygon fill="#44c80c" points="750.0,596.0 758.0,601.0 767.0,608.0 768.0,630.0 768.0,650.0 767.0,670.0 765.0,682.0 750.0,688.0 747.0,670.0 745.0,650.0 745.0,630.0 746.0,610.0"/>
<polygon fill="#beee04" points="794.0,585.0 797.0,594.0 800.0,604.0 801.0,630.0 801.0,670.0 802.0,714.0 777.0,714.0 777.0,670.0 777.0,630.0 778.0,604.0 786.0,594.0"/>
<polygon fill="#beee04" points="822.0,629.0 826.0,646.0 829.0,670.0 830.0,690.0 830.0,714.0 816.0,714.0 817.0,670.0 819.0,646.0"/>
<polygon fill="#44c80c" points="850.0,604.0 856.0,610.0 861.0,626.0 863.0,646.0 864.0,670.0 860.0,680.0 850.0,688.0 844.0,680.0 839.0,666.0 837.0,640.0 838.0,614.0"/>
<polygon fill="#beee04" points="879.0,614.0 881.0,614.0 881.0,636.0 879.0,636.0"/>
<polygon fill="#44c80c" points="909.0,640.0 904.0,652.0 901.0,666.0 904.0,682.0 909.0,690.0"/>
</g>
</g>
<g shape-rendering="crispEdges" clip-path="url(#plotclip)">
<polygon fill="#ffec00" points="521.0,486.0 526.8,492.2 529.2,498.4 531.0,504.6 532.4,510.9 533.6,517.1 534.6,523.3 535.4,529.5 536.1,535.7 536.7,541.9 537.1,548.1 537.3,554.4 537.5,560.6 537.5,566.8 537.4,573.0 537.2,579.2 536.9,585.4 536.5,591.6 536.0,597.9 535.4,604.1 534.6,610.3 533.8,616.5 532.8,622.7 531.7,628.9 530.5,635.1 529.0,641.4 527.3,647.6 525.2,653.8 521.0,660.0 521.0,660.0 518.0,653.8 516.5,647.6 515.3,641.4 514.3,635.1 513.4,628.9 512.6,622.7 511.9,616.5 511.3,610.3 510.8,604.1 510.4,597.9 510.0,591.6 509.7,585.4 509.5,579.2 509.4,573.0 509.3,566.8 509.3,560.6 509.4,554.4 509.6,548.1 509.9,541.9 510.3,535.7 510.8,529.5 511.4,523.3 512.1,517.1 512.9,510.9 513.9,504.6 515.2,498.4 516.9,492.2 521.0,486.0"/>
<polygon fill="#ffd200" points="521.0,489.5 526.1,495.4 528.2,501.3 529.8,507.2 531.0,513.1 532.1,519.1 533.0,525.0 533.7,530.9 534.3,536.8 534.8,542.7 535.1,548.6 535.4,554.5 535.5,560.4 535.5,566.3 535.4,572.2 535.2,578.2 535.0,584.1 534.6,590.0 534.2,595.9 533.6,601.8 533.0,607.7 532.2,613.6 531.4,619.5 530.4,625.4 529.3,631.4 528.1,637.3 526.6,643.2 524.7,649.1 521.0,655.0 521.0,655.0 518.3,649.1 516.9,643.2 515.8,637.3 514.9,631.4 514.0,625.4 513.3,619.5 512.7,613.6 512.2,607.7 511.7,601.8 511.3,595.9 510.9,590.0 510.7,584.1 510.5,578.2 510.4,572.2 510.3,566.3 510.3,560.4 510.4,554.5 510.6,548.6 510.8,542.7 511.2,536.8 511.6,530.9 512.2,525.0 512.8,519.1 513.6,513.1 514.5,507.2 515.7,501.3 517.2,495.4 521.0,489.5"/>
<polygon fill="#ffbe00" points="521.0,492.5 525.5,498.1 527.4,503.8 528.7,509.4 529.9,515.0 530.8,520.6 531.6,526.2 532.2,531.9 532.7,537.5 533.1,543.1 533.5,548.8 533.7,554.4 533.8,560.0 533.8,565.6 533.7,571.2 533.6,576.9 533.3,582.5 533.0,588.1 532.6,593.8 532.1,599.4 531.6,605.0 530.9,610.6 530.2,616.2 529.3,621.9 528.4,627.5 527.2,633.1 525.9,638.8 524.3,644.4 521.0,650.0 521.0,650.0 518.5,644.4 517.2,638.8 516.2,633.1 515.4,627.5 514.6,621.9 514.0,616.2 513.4,610.6 512.9,605.0 512.5,599.4 512.1,593.8 511.8,588.1 511.6,582.5 511.4,576.9 511.3,571.2 511.2,565.6 511.2,560.0 511.3,554.4 511.5,548.8 511.7,543.1 512.0,537.5 512.4,531.9 512.9,526.2 513.5,520.6 514.2,515.0 515.1,509.4 516.1,503.8 517.5,498.1 521.0,492.5"/>
<polygon fill="#ffaa00" points="521.0,495.5 524.9,500.8 526.6,506.2 527.8,511.5 528.7,516.9 529.6,522.2 530.2,527.5 530.8,532.9 531.3,538.2 531.6,543.6 531.9,548.9 532.1,554.2 532.2,559.6 532.2,564.9 532.1,570.2 532.0,575.6 531.8,580.9 531.5,586.3 531.2,591.6 530.8,596.9 530.3,602.3 529.7,607.6 529.0,613.0 528.3,618.3 527.4,623.6 526.5,629.0 525.3,634.3 523.8,639.7 521.0,645.0 521.0,645.0 518.7,639.7 517.5,634.3 516.6,629.0 515.8,623.6 515.1,618.3 514.5,613.0 514.0,607.6 513.6,602.3 513.2,596.9 512.8,591.6 512.5,586.3 512.3,580.9 512.2,575.6 512.1,570.2 512.0,564.9 512.0,559.6 512.1,554.2 512.2,548.9 512.5,543.6 512.8,538.2 513.1,532.9 513.6,527.5 514.1,522.2 514.8,516.9 515.6,511.5 516.5,506.2 517.8,500.8 521.0,495.5"/>
<polygon fill="#ff8200" points="521.0,499.0 524.5,504.0 525.9,509.1 526.9,514.1 527.8,519.1 528.5,524.2 529.1,529.2 529.6,534.2 530.0,539.3 530.3,544.3 530.5,549.4 530.7,554.4 530.8,559.4 530.8,564.5 530.7,569.5 530.6,574.5 530.4,579.6 530.2,584.6 529.9,589.6 529.5,594.7 529.1,599.7 528.6,604.8 528.0,609.8 527.4,614.8 526.6,619.9 525.8,624.9 524.8,629.9 523.5,635.0 521.0,640.0 521.0,640.0 518.9,635.0 517.9,629.9 517.0,624.9 516.3,619.9 515.7,614.8 515.1,609.8 514.6,604.8 514.2,599.7 513.9,594.7 513.6,589.6 513.3,584.6 513.1,579.6 512.9,574.5 512.9,569.5 512.8,564.5 512.8,559.4 512.9,554.4 513.0,549.4 513.2,544.3 513.5,539.3 513.8,534.2 514.2,529.2 514.7,524.2 515.3,519.1 516.0,514.1 516.9,509.1 518.1,504.0 521.0,499.0"/>
<polygon fill="#ff5a00" points="521.0,503.0 524.0,507.7 525.3,512.4 526.2,517.1 526.9,521.9 527.6,526.6 528.1,531.3 528.5,536.0 528.9,540.7 529.2,545.4 529.4,550.1 529.5,554.9 529.6,559.6 529.6,564.3 529.5,569.0 529.4,573.7 529.3,578.4 529.1,583.1 528.8,587.9 528.5,592.6 528.1,597.3 527.7,602.0 527.2,606.7 526.6,611.4 525.9,616.1 525.2,620.9 524.3,625.6 523.2,630.3 521.0,635.0 521.0,635.0 519.1,630.3 518.2,625.6 517.4,620.9 516.8,616.1 516.2,611.4 515.7,606.7 515.3,602.0 514.9,597.3 514.6,592.6 514.3,587.9 514.0,583.1 513.9,578.4 513.7,573.7 513.6,569.0 513.6,564.3 513.6,559.6 513.7,554.9 513.8,550.1 514.0,545.4 514.2,540.7 514.5,536.0 514.9,531.3 515.3,526.6 515.9,521.9 516.5,517.1 517.3,512.4 518.4,507.7 521.0,503.0"/>
<polygon fill="#ff3200" points="521.0,507.0 523.6,511.4 524.7,515.8 525.5,520.2 526.1,524.6 526.7,529.0 527.1,533.4 527.5,537.8 527.8,542.1 528.0,546.5 528.2,550.9 528.3,555.3 528.4,559.7 528.4,564.1 528.4,568.5 528.3,572.9 528.1,577.3 528.0,581.7 527.7,586.1 527.4,590.5 527.1,594.9 526.7,599.2 526.3,603.6 525.8,608.0 525.2,612.4 524.6,616.8 523.8,621.2 522.9,625.6 521.0,630.0 521.0,630.0 519.3,625.6 518.5,621.2 517.8,616.8 517.2,612.4 516.7,608.0 516.3,603.6 515.9,599.2 515.5,594.9 515.3,590.5 515.0,586.1 514.8,581.7 514.6,577.3 514.5,572.9 514.4,568.5 514.4,564.1 514.4,559.7 514.5,555.3 514.6,550.9 514.7,546.5 515.0,542.1 515.2,537.8 515.6,533.4 516.0,529.0 516.4,524.6 517.0,520.2 517.7,515.8 518.7,511.4 521.0,507.0"/>
<polygon fill="#ff0000" points="521.0,511.0 523.2,515.0 524.1,519.1 524.7,523.1 525.3,527.1 525.7,531.2 526.1,535.2 526.4,539.2 526.7,543.3 526.9,547.3 527.0,551.4 527.1,555.4 527.2,559.4 527.2,563.5 527.2,567.5 527.1,571.5 527.0,575.6 526.8,579.6 526.6,583.6 526.4,587.7 526.1,591.7 525.8,595.8 525.4,599.8 525.0,603.8 524.6,607.9 524.0,611.9 523.4,615.9 522.6,620.0 521.0,624.0 521.0,624.0 519.5,620.0 518.8,615.9 518.2,611.9 517.7,607.9 517.2,603.8 516.8,599.8 516.5,595.8 516.2,591.7 515.9,587.7 515.7,583.6 515.6,579.6 515.4,575.6 515.3,571.5 515.2,567.5 515.2,563.5 515.2,559.4 515.3,555.4 515.4,551.4 515.5,547.3 515.7,543.3 515.9,539.2 516.2,535.2 516.6,531.2 517.0,527.1 517.5,523.1 518.1,519.1 519.0,515.0 521.0,511.0"/>
<polygon fill="#d5002b" points="521.0,518.0 522.8,521.6 523.5,525.2 524.0,528.8 524.5,532.4 524.8,536.0 525.1,539.6 525.4,543.2 525.6,546.9 525.7,550.5 525.9,554.1 526.0,557.7 526.0,561.3 526.0,564.9 526.0,568.5 525.9,572.1 525.8,575.7 525.7,579.3 525.5,582.9 525.4,586.5 525.1,590.1 524.9,593.8 524.6,597.4 524.3,601.0 523.9,604.6 523.4,608.2 522.9,611.8 522.3,615.4 521.0,619.0 521.0,619.0 519.8,615.4 519.2,611.8 518.7,608.2 518.2,604.6 517.9,601.0 517.6,597.4 517.3,593.8 517.0,590.1 516.8,586.5 516.6,582.9 516.5,579.3 516.4,575.7 516.3,572.1 516.2,568.5 516.2,564.9 516.2,561.3 516.2,557.7 516.3,554.1 516.4,550.5 516.6,546.9 516.8,543.2 517.0,539.6 517.3,536.0 517.7,532.4 518.1,528.8 518.6,525.2 519.3,521.6 521.0,518.0"/>
<polygon fill="#aa0040" points="521.0,526.0 522.3,529.1 522.9,532.1 523.3,535.2 523.6,538.3 523.9,541.4 524.1,544.4 524.3,547.5 524.5,550.6 524.6,553.6 524.7,556.7 524.8,559.8 524.8,562.9 524.8,565.9 524.8,569.0 524.7,572.1 524.7,575.1 524.6,578.2 524.5,581.3 524.3,584.4 524.1,587.4 523.9,590.5 523.7,593.6 523.5,596.6 523.2,599.7 522.8,602.8 522.5,605.9 522.0,608.9 521.0,612.0 521.0,612.0 520.0,608.9 519.5,605.9 519.2,602.8 518.8,599.7 518.5,596.6 518.3,593.6 518.1,590.5 517.9,587.4 517.7,584.4 517.5,581.3 517.4,578.2 517.3,575.1 517.3,572.1 517.2,569.0 517.2,565.9 517.2,562.9 517.2,559.8 517.3,556.7 517.4,553.6 517.5,550.6 517.7,547.5 517.9,544.4 518.1,541.4 518.4,538.3 518.7,535.2 519.1,532.1 519.7,529.1 521.0,526.0"/>
<polygon fill="#800060" points="521.0,534.0 522.0,536.5 522.3,539.0 522.6,541.5 522.9,544.0 523.1,546.5 523.2,549.0 523.4,551.5 523.5,554.0 523.6,556.5 523.6,559.0 523.7,561.5 523.7,564.0 523.7,566.5 523.7,569.0 523.7,571.5 523.6,574.0 523.5,576.5 523.5,579.0 523.4,581.5 523.2,584.0 523.1,586.5 522.9,589.0 522.8,591.5 522.6,594.0 522.3,596.5 522.0,599.0 521.7,601.5 521.0,604.0 521.0,604.0 520.3,601.5 520.0,599.0 519.7,596.5 519.4,594.0 519.2,591.5 519.1,589.0 518.9,586.5 518.8,584.0 518.6,581.5 518.5,579.0 518.5,576.5 518.4,574.0 518.3,571.5 518.3,569.0 518.3,566.5 518.3,564.0 518.3,561.5 518.4,559.0 518.4,556.5 518.5,554.0 518.6,551.5 518.8,549.0 518.9,546.5 519.1,544.0 519.4,541.5 519.7,539.0 520.0,536.5 521.0,534.0"/>
<polygon fill="#5a0082" points="521.0,544.0 521.5,545.8 521.7,547.5 521.9,549.2 522.0,551.0 522.1,552.8 522.2,554.5 522.3,556.2 522.4,558.0 522.4,559.8 522.5,561.5 522.5,563.2 522.5,565.0 522.5,566.8 522.5,568.5 522.5,570.2 522.4,572.0 522.4,573.8 522.4,575.5 522.3,577.2 522.2,579.0 522.2,580.8 522.1,582.5 522.0,584.2 521.9,586.0 521.7,587.8 521.6,589.5 521.4,591.2 521.0,593.0 521.0,593.0 520.6,591.2 520.4,589.5 520.3,587.8 520.1,586.0 520.0,584.2 519.9,582.5 519.8,580.8 519.8,579.0 519.7,577.2 519.6,575.5 519.6,573.8 519.6,572.0 519.5,570.2 519.5,568.5 519.5,566.8 519.5,565.0 519.5,563.2 519.5,561.5 519.6,559.8 519.6,558.0 519.7,556.2 519.8,554.5 519.9,552.8 520.0,551.0 520.1,549.2 520.3,547.5 520.5,545.8 521.0,544.0"/>
</g>
<g shape-rendering="crispEdges">
<polygon fill="#fff" points="90,724 90,712.5 190.5,712.5 190.5,701.5 219.5,701.5 219.5,690.5 233.5,690.5 233.5,668.5 247.5,668.5 247.5,657.5 262.5,657.5 262.5,624.5 276.5,624.5 276.5,613.5 305.5,613.5 305.5,635.5 319.5,635.5 319.5,646.5 348.5,646.5 348.5,635.5 362.5,635.5 362.5,591.5 377.5,591.5 377.5,547.5 391.5,547.5 391.5,536.5 420.5,536.5 420.5,558.5 434.5,558.5 434.5,580.5 449.5,580.5 449.5,613.5 463.5,613.5 463.5,646.5 477.5,646.5 477.5,657.5 506.5,657.5 506.5,668.5 521.5,668.5 521.5,657.5 549.5,657.5 549.5,668.5 564.5,668.5 564.5,690.5 578.5,690.5 578.5,701.5 621.5,701.5 621.5,712.5 909,712.5 909,724"/>
<polyline fill="none" stroke="#000" stroke-width="1" points="90,712.5 190.5,712.5 190.5,701.5 219.5,701.5 219.5,690.5 233.5,690.5 233.5,668.5 247.5,668.5 247.5,657.5 262.5,657.5 262.5,624.5 276.5,624.5 276.5,613.5 305.5,613.5 305.5,635.5 319.5,635.5 319.5,646.5 348.5,646.5 348.5,635.5 362.5,635.5 362.5,591.5 377.5,591.5 377.5,547.5 391.5,547.5 391.5,536.5 420.5,536.5 420.5,558.5 434.5,558.5 434.5,580.5 449.5,580.5 449.5,613.5 463.5,613.5 463.5,646.5 477.5,646.5 477.5,657.5 506.5,657.5 506.5,668.5 521.5,668.5 521.5,657.5 549.5,657.5 549.5,668.5 564.5,668.5 564.5,690.5 578.5,690.5 578.5,701.5 621.5,701.5 621.5,712.5 909,712.5"/>
</g>
<g fill="none" stroke="#000" stroke-width="1" stroke-linejoin="round" shape-rendering="crispEdges">
<g clip-path="url(#c0)">
<polyline points="240.0,131.2 257.5,135.6 263.8,135.0 278.8,128.8 291.2,125.6 305.0,131.9 318.8,136.2 333.8,136.2 350.0,134.4 365.0,131.2"/>
<polyline points="240.0,166.5 261.2,166.2 276.2,162.5 291.2,156.9 305.0,157.5 318.8,167.5 333.8,167.5 347.5,163.8 365.0,159.4"/>
<polyline points="240.0,196.2 251.2,196.2 276.2,191.2 291.2,188.8 305.0,186.5 320.0,194.4 332.5,195.6 348.8,191.2 365.0,187.5"/>
<polyline points="240.0,223.5 255.0,221.2 276.2,220.0 290.0,223.5 305.0,217.5 318.8,218.1 330.0,221.2 340.0,221.2 353.8,216.9 362.5,216.0 365.0,216.9"/>
</g>
<g clip-path="url(#c1)">
<polyline points="365.0,131.9 377.5,130.0 390.0,128.1 396.2,128.8 406.2,130.0 421.2,131.2 435.0,131.9 460.0,131.9 477.5,131.2 490.0,132.5"/>
<polyline points="365.0,159.4 377.5,157.8 388.8,158.1 423.1,162.5 435.0,163.1 443.8,164.4 462.5,164.0 477.5,163.1 490.0,163.8"/>
<polyline points="365.0,188.1 377.5,186.5 392.5,189.0 406.2,191.9 421.2,194.4 435.0,198.1 455.0,198.1 463.8,196.2 490.0,195.6"/>
<polyline points="365.0,216.2 378.8,216.5 392.5,222.5 406.2,227.9 420.0,228.1 425.0,231.2 428.8,235.0"/>
</g>
<g clip-path="url(#c2)">
<polyline points="490.0,132.2 506.2,135.6 521.2,140.0 536.2,143.5 563.8,143.1 578.8,140.0 592.5,140.0 608.8,142.5 615.0,142.5"/>
<polyline points="490.0,163.5 506.2,170.0 521.2,175.0 534.4,181.5 571.2,181.2 578.1,179.4 592.5,178.8 615.0,179.1"/>
<polyline points="490.0,196.0 506.2,205.0 521.2,212.5 535.0,221.2 541.2,221.0 550.0,219.4 571.2,219.0 586.2,216.2 615.0,216.0"/>
</g>
<g clip-path="url(#c3)">
<polyline points="657.5,110.0 666.2,115.6 680.0,120.0 695.0,123.1 710.0,124.8 723.8,125.6 740.0,128.8"/>
<polyline points="615.0,142.5 636.2,143.1 651.2,146.2 665.0,149.4 680.0,150.6 695.0,152.5 710.0,153.1 723.8,153.8 740.0,156.9"/>
<polyline points="615.0,179.1 618.8,178.8 653.1,182.5 680.0,181.5 695.0,181.2 710.0,181.9 723.8,183.5 740.0,183.8"/>
<polyline points="615.0,216.2 622.5,218.1 636.2,218.8 651.2,219.8 665.0,221.0 680.0,223.8 701.2,227.5 735.0,227.5 740.0,226.9"/>
</g>
<g clip-path="url(#c4)">
<polyline points="240.0,248.1 247.5,247.2 262.5,246.9 276.2,247.5 291.2,253.5 305.0,248.8 320.0,246.0 332.5,249.0 353.8,248.8 365.0,247.5"/>
<polyline points="240.0,274.8 262.5,273.8 276.2,274.8 291.2,278.8 298.8,280.2 312.5,280.0 320.0,278.8 333.8,280.6 347.5,285.4 358.1,285.0"/>
<polyline points="240.0,301.2 247.5,300.4 255.0,303.1 268.8,306.5 288.8,306.2 291.2,305.0 305.0,311.5 320.0,314.4 333.8,316.9 347.5,322.5 353.8,322.5 365.0,319.8"/>
<polyline points="240.0,331.2 247.5,331.2 261.2,337.5 291.2,337.5 305.0,338.5 320.0,344.8 333.8,346.2 346.2,349.4 352.5,349.4 365.0,346.9"/>
</g>
<g clip-path="url(#c5)">
<polyline points="365.0,248.1 377.5,253.8 391.2,260.6 405.6,266.2 420.0,264.0 435.0,271.2 448.8,275.2 463.8,270.6 477.5,269.8 490.0,270.6"/>
<polyline points="391.9,293.8 405.0,296.9 420.0,290.0 434.4,287.8 450.0,298.8 463.8,305.0 477.5,308.8 490.0,310.6"/>
<polyline points="365.0,319.4 377.5,312.5 391.2,323.1 401.2,324.4 407.5,323.8 420.0,319.4 434.4,309.4 446.2,317.5 450.0,317.5 463.8,328.8 476.2,335.0 490.0,335.6"/>
<polyline points="365.0,346.2 377.5,344.8 388.8,350.6 423.1,349.4 435.0,349.0 449.4,342.5 453.8,348.8 463.8,355.0 475.0,358.1 490.0,355.0"/>
<polyline points="430.0,235.0 435.6,240.6 456.2,235.0"/>
</g>
<g clip-path="url(#c6)">
<polyline points="496.2,235.0 507.5,241.9 521.2,251.2 535.6,261.2 549.4,258.8 565.0,260.6 585.0,260.6 592.5,258.5 615.0,258.5"/>
<polyline points="490.0,270.6 493.8,271.2 507.5,279.4 521.9,291.2 535.6,297.1 549.4,296.5 565.0,296.5 572.5,298.4 585.0,298.4 592.5,296.5 615.0,296.2"/>
<polyline points="490.0,310.4 506.2,311.0 521.9,323.1 534.4,327.5 548.8,327.5 563.8,325.6 572.5,327.5 591.2,327.5 606.2,325.6 615.0,324.0"/>
<polyline points="490.0,335.0 507.5,340.0 519.4,350.2 555.0,350.2 563.8,347.5 615.0,347.5"/>
<polyline points="490.0,354.4 492.5,353.1 498.8,360.0"/>
</g>
<g clip-path="url(#c7)">
<polyline points="615.0,258.1 622.5,259.0 636.2,260.0 651.2,261.2 661.2,261.5 696.2,265.4 735.0,265.4 740.0,264.4"/>
<polyline points="615.0,296.5 621.2,295.6 665.0,295.6 680.0,293.8 693.8,293.8 695.0,295.6 735.0,295.6 740.0,296.5"/>
<polyline points="615.0,324.8 625.0,323.1 633.1,321.9 668.8,318.1 680.0,318.1 693.8,320.6 735.0,320.6 740.0,321.2"/>
<polyline points="615.0,346.9 636.2,345.6 650.0,345.0 665.0,346.0 708.8,346.2 723.8,348.1 740.0,351.9"/>
</g>
<g clip-path="url(#c8)">
<polyline points="240.0,367.5 245.0,369.4 277.5,369.4 291.2,364.8 298.8,365.6 307.5,367.5 317.5,371.2 328.8,371.2 334.4,369.4 341.2,371.2 362.5,371.2 365.0,371.9"/>
<polyline points="259.4,404.4 275.6,401.9 291.2,390.6 298.8,392.5 320.0,396.9 335.0,399.4 348.8,399.4 355.0,403.1 363.8,409.4 365.0,409.4"/>
<polyline points="240.0,438.1 257.5,438.1 276.2,433.8 290.0,428.5 305.0,422.1 318.8,422.1 335.0,427.5 347.5,431.9 352.5,437.5 362.5,453.1 365.0,453.5"/>
<polyline points="240.0,478.1 247.5,476.2 261.2,472.5 272.5,474.0"/>
<polyline points="306.2,464.4 319.4,450.6 335.0,457.5 340.0,465.0 348.8,477.5 357.5,485.0"/>
</g>
<g clip-path="url(#c9)">
<polyline points="365.0,373.1 376.2,380.0 390.0,379.4 398.8,371.2 406.2,368.5 420.0,377.2 435.0,378.5 455.0,378.5 463.1,376.2 475.0,383.1 490.0,387.5"/>
<polyline points="391.2,402.2 406.2,402.2 420.0,410.2 433.8,410.2 450.0,408.5 463.8,410.0 477.5,411.5 490.0,418.1"/>
<polyline points="365.0,453.5 377.5,453.1 391.2,437.8 406.2,443.8 421.2,451.9 428.8,452.5 450.6,452.5 462.5,446.2 471.2,449.4 490.0,450.6"/>
<polyline points="372.5,484.4 377.5,483.1 383.8,485.0"/>
</g>
<g clip-path="url(#c10)">
<polyline points="498.8,360.0 506.2,372.2 535.0,372.2 552.5,372.2 563.8,368.8 578.8,366.0 604.4,366.0"/>
<polyline points="490.0,388.5 503.8,394.0 521.2,392.2 535.0,392.2 542.5,395.0 550.0,396.2 565.0,389.8 578.8,387.8 593.8,389.0 615.0,389.8"/>
<polyline points="490.0,418.8 493.8,419.0 507.5,415.6 521.2,413.5 535.0,414.4 550.0,426.2 565.0,419.8 578.8,413.8 593.8,415.6 615.0,421.2"/>
<polyline points="490.0,450.0 506.9,450.0 521.2,434.0 535.0,436.2 550.0,450.6 563.8,456.2 578.8,452.2 593.8,452.5 607.5,458.8 615.0,463.8"/>
<polyline points="508.8,485.0 521.2,476.9 527.5,485.0"/>
</g>
<g clip-path="url(#c11)">
<polyline points="638.1,369.4 651.2,370.6 666.2,375.6 680.0,378.5 695.0,380.0 707.5,380.6 722.5,384.4 740.0,388.8"/>
<polyline points="615.0,390.0 622.5,390.6 636.2,394.4 646.2,400.0 652.5,405.0 665.0,411.2 680.0,415.0 695.0,416.2 723.8,418.8 740.0,421.2"/>
<polyline points="615.0,421.2 622.5,423.8 638.8,431.9 643.8,437.5 648.1,439.4 682.5,448.5 695.0,448.8 708.8,449.4 722.5,451.9 740.0,454.8"/>
<polyline points="615.0,465.6 622.5,470.0 636.2,479.4 650.0,483.1 665.0,483.8 680.0,484.8 693.8,484.8"/>
</g>
<g clip-path="url(#c12)">
<polyline points="240.0,536.5 247.5,535.0 262.5,535.0 276.2,524.4 290.6,510.6 306.2,523.1 320.0,523.1 325.0,514.4 334.4,505.2 350.0,514.4 365.0,516.2"/>
<polyline points="240.0,581.0 246.2,579.4 262.5,568.5 266.2,570.0 276.9,581.9 280.0,591.2 283.1,610.0"/>
<polyline points="295.0,610.0 298.8,591.2 301.2,580.0 305.6,571.2 320.0,588.1 333.8,577.5 348.8,564.4 362.5,558.8 365.0,563.8"/>
<polyline points="358.8,485.0 362.5,489.4 365.0,489.4"/>
</g>
<g clip-path="url(#c13)">
<polyline points="365.0,488.8 370.0,485.0"/>
<polyline points="385.6,485.0 391.2,486.9 406.2,495.0 415.0,503.8 420.0,506.2 424.8,511.4 429.6,520.2 466.4,520.2 477.5,520.6 486.2,522.2 490.0,522.2"/>
<polyline points="365.0,515.6 377.5,512.2 381.2,522.5 385.0,528.8 390.6,536.2"/>
<polyline points="365.0,564.4 368.1,570.0 370.0,577.5 370.6,591.2"/>
<polyline points="420.6,548.1 425.0,558.8"/>
<polyline points="435.0,565.0 440.0,570.0 447.5,580.0 462.5,585.0 476.9,585.0 485.0,593.8 490.0,596.9"/>
</g>
<g clip-path="url(#c14)">
<polyline points="490.0,522.5 492.5,522.2 496.2,505.0 502.5,491.2 506.9,485.0"/>
<polyline points="528.1,485.0 535.0,495.2 550.0,493.5 563.8,493.5 577.5,496.9 592.5,503.1 602.5,508.1 611.9,515.6 615.0,516.2"/>
<polyline points="490.0,597.5 492.5,599.4 498.8,591.2 503.8,581.2 506.2,573.8 513.8,570.6 520.6,565.0 522.5,560.0 533.1,547.5 542.5,543.8 563.8,538.1 577.5,536.2 592.5,535.6 600.0,541.9 608.1,551.0 615.0,552.5"/>
</g>
<g clip-path="url(#c15)">
<polyline points="490.0,637.2 493.8,638.1 502.5,644.4 507.5,650.0 511.9,657.5 513.1,663.8 513.8,668.1"/>
<polyline points="532.5,657.5 533.8,647.5 537.5,635.0 543.8,622.5 549.4,611.2 556.2,618.1 565.0,625.6 570.0,635.0 575.0,646.2 578.8,660.0 581.9,672.5 583.8,682.5 583.8,690.0 580.0,701.2"/>
</g>
<g clip-path="url(#c16)">
<polyline points="240.0,619.4 247.5,617.8 252.5,625.0 256.2,636.2 257.5,645.0 255.6,657.5"/>
<polyline points="319.4,638.1 327.5,641.2 337.5,646.2"/>
<polyline points="283.1,609.4 283.2,613.8"/>
<polyline points="295.0,609.4 295.0,613.8"/>
</g>
<g clip-path="url(#c17)">
<polyline points="463.8,631.2 477.5,631.2 483.8,635.6 490.0,636.9"/>
</g>
<g clip-path="url(#c18)">
<polyline points="693.8,485.0 708.8,487.5 723.8,489.4 740.0,491.2"/>
<polyline points="615.0,516.9 622.5,520.6 633.8,526.2 645.0,528.1 661.9,528.4 696.2,533.1 722.5,533.1 740.0,536.2"/>
<polyline points="615.0,552.5 621.2,553.8 636.2,557.2 656.2,557.2 665.0,555.6 678.8,555.6 693.8,558.1 702.5,559.8 722.5,558.8 740.0,562.5"/>
</g>
<g clip-path="url(#c19)">
<polyline points="740.0,621.2 738.1,623.8 736.2,632.5 733.8,640.0 730.0,647.5 726.9,660.0 724.4,672.5 723.5,685.0 725.0,700.0 731.9,712.1"/>
</g>
<g clip-path="url(#c20)">
<polyline points="90.0,113.8 115.0,117.5 140.0,122.5 170.0,127.0 220.0,127.5 240.0,131.2"/>
<polyline points="90.0,150.0 105.0,151.2 128.8,155.8 165.0,161.2 190.0,163.0 220.0,165.0 240.0,166.2"/>
<polyline points="90.0,186.2 105.0,187.5 132.5,191.2 162.5,194.5 190.0,195.0 205.0,194.5 220.0,196.2 240.0,196.2"/>
<polyline points="90.0,214.5 117.5,216.2 140.0,220.0 162.5,222.5 173.8,223.8 207.5,225.5 232.5,225.5 240.0,223.8"/>
<polyline points="90.0,245.0 105.0,244.5 132.5,247.0 162.5,250.0 177.5,251.8 232.5,251.2 240.0,250.0"/>
<polyline points="90.0,276.2 115.0,273.8 130.0,274.5 165.0,277.0 190.0,278.0 217.5,278.0 240.0,275.5"/>
<polyline points="90.0,309.5 117.5,305.0 212.5,305.0 240.0,302.0"/>
<polyline points="90.0,345.0 117.5,338.8 145.0,336.2 178.8,333.8 190.0,333.8 212.5,332.0 240.0,330.5"/>
</g>
<g clip-path="url(#c21)">
<polyline points="90.0,383.8 100.0,383.0 117.5,377.5 145.0,370.0 172.5,366.2 202.5,363.8 220.0,364.5 245.0,369.5"/>
<polyline points="90.0,420.0 117.5,420.0 145.0,410.0 175.0,401.2 190.0,397.5 205.0,397.5 222.5,399.5"/>
<polyline points="90.0,458.8 105.0,459.5 132.5,458.8 160.0,451.2 190.0,442.5 205.0,438.8 232.5,438.0 245.0,438.8"/>
<polyline points="90.0,492.5 105.0,492.5 127.5,495.5 145.0,495.0 185.0,492.5 205.0,488.8 232.5,480.0 245.0,476.2"/>
<polyline points="90.0,522.5 105.0,523.8 147.5,526.2 177.5,531.2 202.5,540.0 220.0,540.0 245.0,535.0"/>
<polyline points="90.0,548.8 105.0,551.2 147.5,560.0 190.0,567.5 215.0,573.8 233.8,582.0 245.0,580.0"/>
<polyline points="90.0,586.2 105.0,587.0 132.5,591.2 160.0,595.0 175.0,599.5 190.0,605.0 200.0,610.0"/>
</g>
<g clip-path="url(#c22)">
<polyline points="156.0,560.0 186.0,566.0 218.0,574.0 234.0,582.0 246.0,579.0 263.0,568.4 276.0,580.0 280.0,594.0 282.0,613.0"/>
<polyline points="90.0,586.0 104.0,586.4 130.0,590.0 156.0,595.0 186.0,602.0 204.0,612.0 219.0,621.0 234.0,620.0 248.0,617.6 254.0,630.0 257.0,642.0 256.0,657.4"/>
<polyline points="128.0,712.4 128.0,692.0 132.0,679.0 148.0,671.0 170.0,672.4 186.0,672.0 204.0,671.0 220.0,667.6 233.4,667.6"/>
<polyline points="211.0,701.0 218.0,697.0 219.6,696.0"/>
</g>
<g clip-path="url(#c23)">
<polyline points="814.0,110.0 824.0,114.0 844.0,118.4 864.0,123.0 888.0,127.6 909.0,129.6"/>
<polyline points="720.0,126.0 732.0,127.6 752.0,131.0 774.0,134.0 796.0,137.0 818.0,140.4 838.0,145.0 860.0,149.6 896.0,149.6 909.0,150.6"/>
<polyline points="720.0,153.0 732.0,155.6 752.0,158.0 776.0,160.0 798.0,163.6 820.0,167.0 838.0,172.0 850.0,175.0 872.0,175.0 886.0,172.0 909.0,171.0"/>
<polyline points="720.0,182.4 740.0,184.0 752.0,186.4 796.0,189.0 820.0,192.4 838.0,195.6 852.0,198.0 909.0,198.0"/>
<polyline points="720.0,227.6 736.0,227.0 740.0,225.6 762.0,221.0 784.0,216.4 796.0,215.0 838.0,215.0 856.0,216.0 876.0,222.0 892.0,228.0 896.0,230.6 909.0,235.0"/>
<polyline points="720.0,265.0 750.0,264.0 766.0,260.4 786.0,256.0 808.0,252.0 822.0,247.0 829.0,239.0 838.0,237.4 852.0,236.6 860.0,239.0 864.0,245.0 880.0,260.0 896.0,270.0 909.0,271.6"/>
<polyline points="720.0,296.0 736.0,296.0 768.0,298.4 790.0,302.0 814.0,305.6 832.0,307.6 854.0,307.6 878.0,306.0 909.0,305.0"/>
</g>
<g clip-path="url(#c24)">
<polyline points="720.0,320.0 736.0,320.4 752.0,323.0 766.0,326.0 774.0,329.0 796.0,333.6 820.0,337.6 840.0,339.6 878.0,339.6 884.0,337.0 909.0,334.0"/>
<polyline points="720.0,347.0 732.0,349.0 752.0,356.0 774.0,362.4 796.0,366.4 810.0,368.6 840.0,370.0 864.0,370.0 878.0,367.0 909.0,363.0"/>
<polyline points="720.0,383.6 730.0,386.0 752.0,391.0 774.0,395.6 796.0,399.0 822.0,402.4 840.0,403.6 864.0,403.6 880.0,402.4 892.0,401.0 909.0,400.4"/>
<polyline points="720.0,418.4 730.0,419.6 752.0,422.0 774.0,427.0 796.0,430.4 810.0,432.4 822.0,432.4 844.0,436.0 868.0,438.0 892.0,440.0 909.0,441.6"/>
<polyline points="720.0,451.6 730.0,453.0 750.0,456.0 770.0,460.0 790.0,463.6 822.0,463.6 838.0,466.0 852.0,470.0 880.0,473.0 909.0,478.4"/>
<polyline points="720.0,488.0 736.0,491.0 760.0,492.4 780.0,495.6 810.0,495.6 822.0,494.4 834.0,496.0 852.0,501.0 872.0,504.0 892.0,507.0 909.0,509.0"/>
</g>
<g clip-path="url(#c25)">
<polyline points="720.0,533.0 744.0,537.0 780.0,537.6 794.0,539.6 810.0,547.0 822.0,551.4 836.0,548.0 852.0,539.6 876.0,545.0 896.0,546.4 909.0,546.4"/>
<polyline points="720.0,559.0 732.0,561.0 744.0,563.4 768.0,563.4 780.0,559.0 794.0,557.6 808.0,561.6 822.0,568.0 836.0,573.6 852.0,579.0 880.0,580.4 896.0,584.0 909.0,587.0"/>
<polyline points="730.0,712.0 726.0,702.0 723.0,680.0 726.0,660.0 730.0,646.0 734.0,636.0 738.0,624.0 744.0,612.0 750.0,601.6 764.0,597.0 780.0,595.0 794.0,592.4 808.0,589.6 822.0,589.6 836.0,596.0 852.0,608.0 866.0,612.0 880.0,613.6 894.0,618.4 909.0,619.0"/>
<polyline points="848.0,712.0 850.0,694.0 853.0,684.0 858.0,677.0 865.0,672.6 878.0,675.4 900.0,675.4 909.0,674.0"/>
</g>
</g>
<g class="cl" font-size="23.5px" text-anchor="middle">
<g transform="translate(147 158.5) rotate(7)"><rect x="-17.2" y="-11.8" width="34.4" height="23.6" fill="#fff"/><text x="0" y="7.8" textLength="26.5" lengthAdjust="spacingAndGlyphs">32</text></g>
<g transform="translate(190.4 223.4) rotate(3)"><rect x="-17.2" y="-11.8" width="34.4" height="23.6" fill="#fff"/><text x="0" y="7.8" textLength="26.5" lengthAdjust="spacingAndGlyphs">30</text></g>
<g transform="translate(147 276) rotate(2)"><rect x="-17.2" y="-11.8" width="34.4" height="23.6" fill="#fff"/><text x="0" y="7.8" textLength="26.5" lengthAdjust="spacingAndGlyphs">28</text></g>
<g transform="translate(162 335.4) rotate(-3)"><rect x="-17.2" y="-11.8" width="34.4" height="23.6" fill="#fff"/><text x="0" y="7.8" textLength="26.5" lengthAdjust="spacingAndGlyphs">26</text></g>
<g transform="translate(242 404) rotate(8)"><rect x="-17.2" y="-11.8" width="34.4" height="23.6" fill="#fff"/><text x="0" y="7.8" textLength="26.5" lengthAdjust="spacingAndGlyphs">24</text></g>
<g transform="translate(292 478.5) rotate(-12)"><rect x="-17.2" y="-11.8" width="34.4" height="23.6" fill="#fff"/><text x="0" y="7.8" textLength="26.5" lengthAdjust="spacingAndGlyphs">22</text></g>
<g transform="translate(406 160) rotate(4)"><rect x="-17.2" y="-11.8" width="34.4" height="23.6" fill="#fff"/><text x="0" y="7.8" textLength="26.5" lengthAdjust="spacingAndGlyphs">32</text></g>
<g transform="translate(478.5 233) rotate(2)"><rect x="-17.2" y="-11.8" width="34.4" height="23.6" fill="#fff"/><text x="0" y="7.8" textLength="26.5" lengthAdjust="spacingAndGlyphs">30</text></g>
<g transform="translate(377.5 285) rotate(18.3)"><rect x="-17.2" y="-11.8" width="34.4" height="23.6" fill="#fff"/><text x="0" y="7.8" textLength="26.5" lengthAdjust="spacingAndGlyphs">28</text></g>
<g transform="translate(406 348) rotate(2)"><rect x="-17.2" y="-11.8" width="34.4" height="23.6" fill="#fff"/><text x="0" y="7.8" textLength="26.5" lengthAdjust="spacingAndGlyphs">26</text></g>
<g transform="translate(378 415) rotate(-53)"><rect x="-17.2" y="-11.8" width="34.4" height="23.6" fill="#fff"/><text x="0" y="7.8" textLength="26.5" lengthAdjust="spacingAndGlyphs">24</text></g>
<g transform="translate(449.2 522.2) rotate(-13.9)"><rect x="-17.2" y="-11.8" width="34.4" height="23.6" fill="#fff"/><text x="0" y="7.8" textLength="26.5" lengthAdjust="spacingAndGlyphs">22</text></g>
<g transform="translate(636 181) rotate(3)"><rect x="-17.2" y="-11.8" width="34.4" height="23.6" fill="#fff"/><text x="0" y="7.8" textLength="26.5" lengthAdjust="spacingAndGlyphs">32</text></g>
<g transform="translate(679 263) rotate(2)"><rect x="-17.2" y="-11.8" width="34.4" height="23.6" fill="#fff"/><text x="0" y="7.8" textLength="26.5" lengthAdjust="spacingAndGlyphs">30</text></g>
<g transform="translate(650.6 320) rotate(-4)"><rect x="-17.2" y="-11.8" width="34.4" height="23.6" fill="#fff"/><text x="0" y="7.8" textLength="26.5" lengthAdjust="spacingAndGlyphs">28</text></g>
<g transform="translate(621 367) rotate(3)"><rect x="-17.2" y="-11.8" width="34.4" height="23.6" fill="#fff"/><text x="0" y="7.8" textLength="26.5" lengthAdjust="spacingAndGlyphs">26</text></g>
<g transform="translate(664.6 446) rotate(13)"><rect x="-17.2" y="-11.8" width="34.4" height="23.6" fill="#fff"/><text x="0" y="7.8" textLength="26.5" lengthAdjust="spacingAndGlyphs">24</text></g>
<g transform="translate(679.1 530.4) rotate(6)"><rect x="-17.2" y="-11.8" width="34.4" height="23.6" fill="#fff"/><text x="0" y="7.8" textLength="26.5" lengthAdjust="spacingAndGlyphs">22</text></g>
</g>
<g stroke="#000" fill="none" shape-rendering="crispEdges">
<rect x="90" y="110" width="819" height="614" stroke-width="2"/>
<path stroke-width="2" d="M223 110v20M223 724v-21M356 110v20M356 724v-21M489 110v20M489 724v-21M622 110v20M622 724v-21M755 110v20M755 724v-21M888 110v20M888 724v-21M90 622h28M909 622h-28M90 519h28M909 519h-28M90 417h28M909 417h-28M90 315h28M909 315h-28M90 212h28M909 212h-28"/>
<path stroke-width="1" d="M134.5 110v10.5M134.5 724v-10.5M178.5 110v10.5M178.5 724v-10.5M267.5 110v10.5M267.5 724v-10.5M311.5 110v10.5M311.5 724v-10.5M400.5 110v10.5M400.5 724v-10.5M444.5 110v10.5M444.5 724v-10.5M533.5 110v10.5M533.5 724v-10.5M577.5 110v10.5M577.5 724v-10.5M666.5 110v10.5M666.5 724v-10.5M710.5 110v10.5M710.5 724v-10.5M799.5 110v10.5M799.5 724v-10.5M843.5 110v10.5M843.5 724v-10.5M90 689.5h14M909 689.5h-14M90 655.5h14M909 655.5h-14M90 587.5h14M909 587.5h-14M90 553.5h14M909 553.5h-14M90 485.5h14M909 485.5h-14M90 451.5h14M909 451.5h-14M90 382.5h14M909 382.5h-14M90 348.5h14M909 348.5h-14M90 280.5h14M909 280.5h-14M90 246.5h14M909 246.5h-14M90 178.5h14M909 178.5h-14M90 144.5h14M909 144.5h-14"/>
</g>
<g font-size="27px" stroke-width="0.8">
<text x="90.5" y="754" text-anchor="middle">0</text>
<text x="223.5" y="754" text-anchor="middle">30</text>
<text x="356.5" y="754" text-anchor="middle">60</text>
<text x="489.5" y="754" text-anchor="middle">90</text>
<text x="622.5" y="754" text-anchor="middle">120</text>
<text x="755.5" y="754" text-anchor="middle">150</text>
<text x="888.5" y="754" text-anchor="middle">180</text>
<text x="81" y="733.3" text-anchor="end">0</text>
<text x="81" y="631.0" text-anchor="end">3</text>
<text x="81" y="528.6" text-anchor="end">6</text>
<text x="81" y="426.3" text-anchor="end">9</text>
<text x="81" y="324.0" text-anchor="end">12</text>
<text x="81" y="221.6" text-anchor="end">15</text>
<text x="81" y="119.3" text-anchor="end">18</text>
</g>
<text x="127" y="58" font-size="25px" font-weight="bold" stroke-width="0.8" textLength="719" lengthAdjust="spacingAndGlyphs">Wind-Parallel Section at Max W: Vertical Velocity &amp; Pot.Temp.</text>
<text x="853" y="54.5" font-size="13px" font-weight="bold" textLength="21" lengthAdjust="spacingAndGlyphs">(C)</text>
<text x="248.8" y="76.3" font-size="20px" textLength="142" lengthAdjust="spacingAndGlyphs">Valid 1500 JST</text>
<text x="394.5" y="75.5" font-size="14px" textLength="54" lengthAdjust="spacingAndGlyphs">(0600Z)</text>
<text x="453" y="76.3" font-size="20px" textLength="165" lengthAdjust="spacingAndGlyphs">WED 25 Oct 2023</text>
<text x="625" y="75.5" font-size="15px" textLength="126" lengthAdjust="spacingAndGlyphs">[12hrFcst@2149z]</text>
<text x="420" y="88.5" font-size="14.5px" textLength="158" lengthAdjust="spacingAndGlyphs">i,j,k,angle=34,23,24,120</text>
<text x="415.5" y="792" font-size="27px" stroke-width="0.8" textLength="167" lengthAdjust="spacingAndGlyphs">Distance [nm]</text>
<text transform="translate(33.7 506.5) rotate(-90)" font-size="27.5px" stroke-width="0.8" textLength="177" lengthAdjust="spacingAndGlyphs">Height [Kft MSL]</text>
<g shape-rendering="crispEdges">
<rect x="125" y="816" width="30" height="8" fill="#0000ff"/>
<rect x="155" y="816" width="30" height="8" fill="#0040ff"/>
<rect x="185" y="816" width="30" height="8" fill="#0080ff"/>
<rect x="215" y="816" width="30" height="8" fill="#00c0ff"/>
<rect x="245" y="816" width="30" height="8" fill="#00ffff"/>
<rect x="275" y="816" width="30" height="8" fill="#00e6c4"/>
<rect x="305" y="816" width="29" height="8" fill="#00d98a"/>
<rect x="334" y="816" width="30" height="8" fill="#04c850"/>
<rect x="364" y="816" width="30" height="8" fill="#08b414"/>
<rect x="394" y="816" width="30" height="8" fill="#44c80c"/>
<rect x="424" y="816" width="30" height="8" fill="#88dc08"/>
<rect x="454" y="816" width="30" height="8" fill="#beee04"/>
<rect x="484" y="816" width="30" height="8" fill="#f8ff00"/>
<rect x="514" y="816" width="30" height="8" fill="#ffec00"/>
<rect x="544" y="816" width="30" height="8" fill="#ffd200"/>
<rect x="574" y="816" width="30" height="8" fill="#ffbe00"/>
<rect x="604" y="816" width="30" height="8" fill="#ffaa00"/>
<rect x="634" y="816" width="30" height="8" fill="#ff8200"/>
<rect x="664" y="816" width="29" height="8" fill="#ff5a00"/>
<rect x="693" y="816" width="30" height="8" fill="#ff3200"/>
<rect x="723" y="816" width="30" height="8" fill="#ff0000"/>
<rect x="753" y="816" width="30" height="8" fill="#d5002b"/>
<rect x="783" y="816" width="30" height="8" fill="#aa0040"/>
<rect x="813" y="816" width="30" height="8" fill="#800060"/>
<rect x="843" y="816" width="30" height="8" fill="#5a0082"/>
<path d="M155.5 816v8M185.5 816v8M215.5 816v8M245.5 816v8M275.5 816v8M305.5 816v8M334.5 816v8M364.5 816v8M394.5 816v8M424.5 816v8M454.5 816v8M484.5 816v8M514.5 816v8M544.5 816v8M574.5 816v8M604.5 816v8M634.5 816v8M664.5 816v8M693.5 816v8M723.5 816v8M753.5 816v8M783.5 816v8M813.5 816v8M843.5 816v8" stroke="#000" stroke-width="1" fill="none"/>
<rect x="125.5" y="816.5" width="748" height="8" fill="none" stroke="#000" stroke-width="1"/>
</g>
<g font-size="19px" stroke-width="0.9">
<text x="125.5" y="844" text-anchor="middle">-44</text>
<text x="215.4" y="844" text-anchor="middle">-32</text>
<text x="305.3" y="844" text-anchor="middle">-20</text>
<text x="395.1" y="844" text-anchor="middle">-8</text>
<text x="485.5" y="844" text-anchor="middle">4</text>
<text x="575.4" y="844" text-anchor="middle">16</text>
<text x="665.3" y="844" text-anchor="middle">28</text>
<text x="755.2" y="844" text-anchor="middle">40</text>
<text x="845.0" y="844" text-anchor="middle">52</text>
</g>
<text x="397.5" y="880.3" font-size="19.5px" stroke-width="0.9" textLength="206" lengthAdjust="spacingAndGlyphs">Vertical Velocity [cm/s]</text>
</svg></body></html>
